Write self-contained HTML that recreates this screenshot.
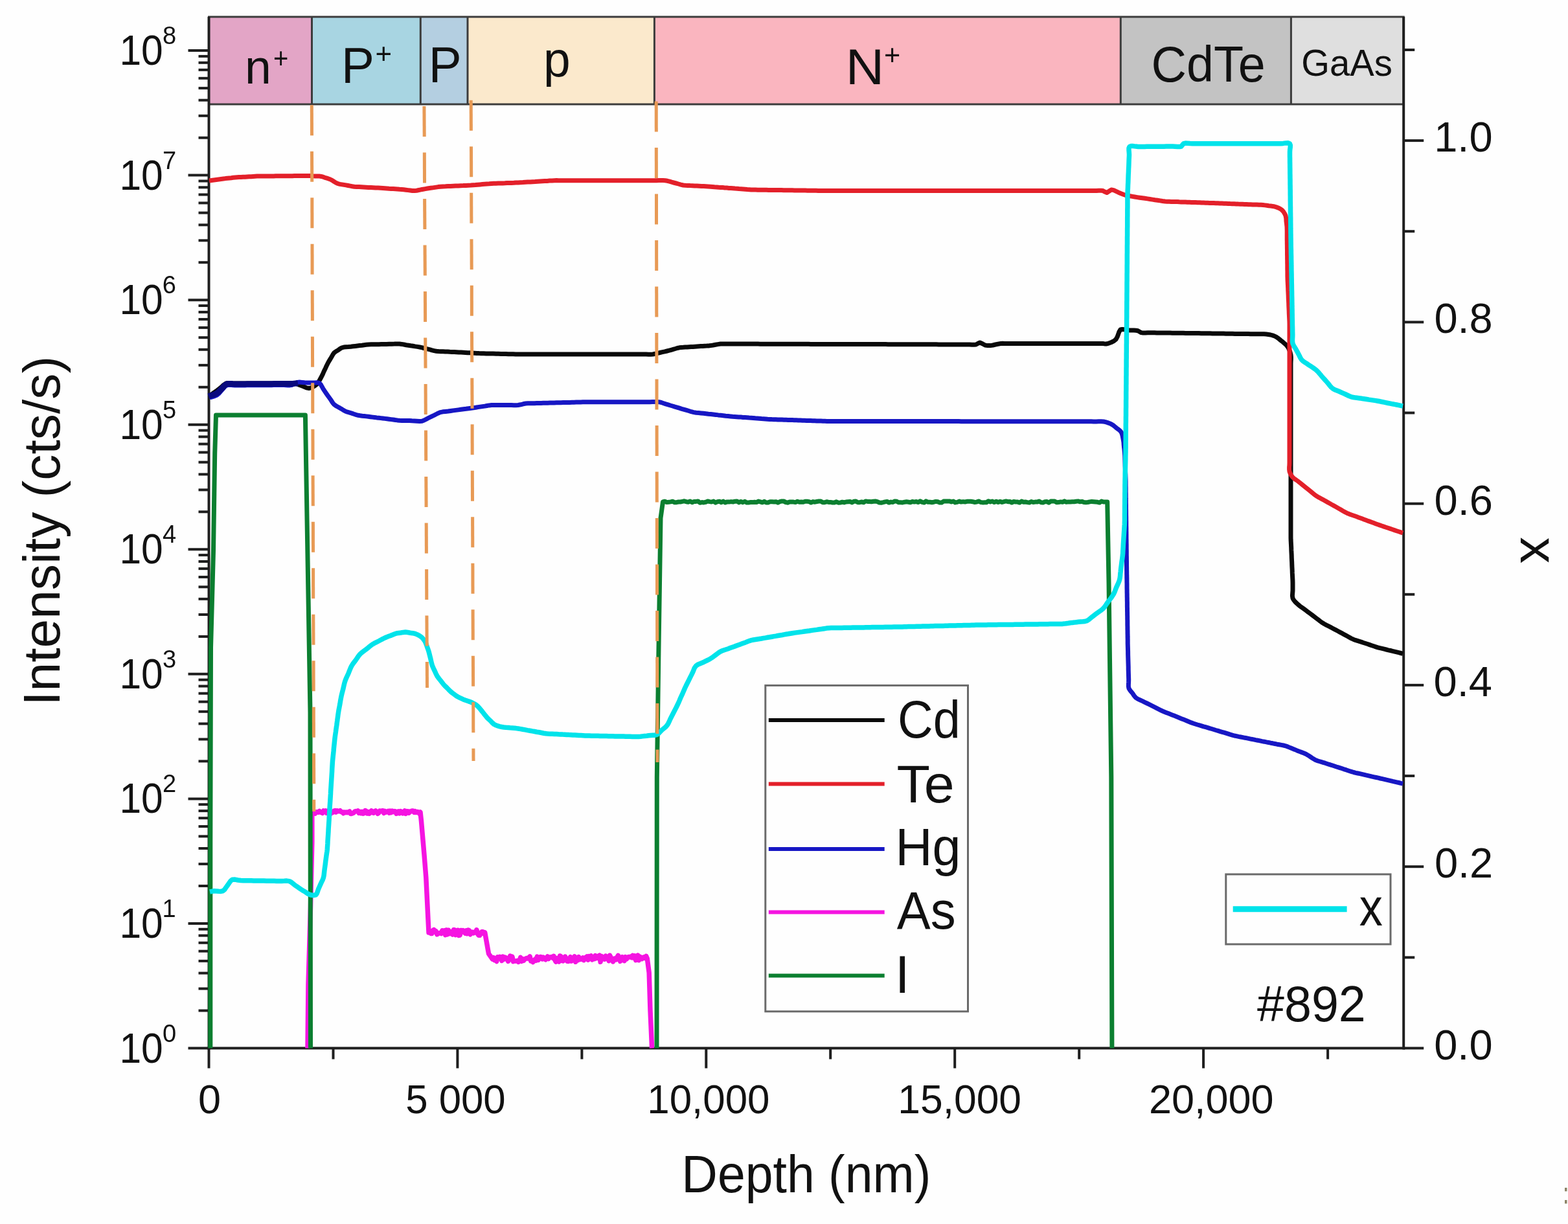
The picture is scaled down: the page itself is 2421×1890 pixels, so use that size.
<!DOCTYPE html>
<html><head><meta charset="utf-8"><title>SIMS depth profile #892</title>
<style>html,body{margin:0;padding:0;background:#fefefe;overflow:hidden}svg{display:block}</style>
</head><body>
<svg width="2421" height="1890" viewBox="0 0 2421 1890" font-family="Liberation Sans, Arial, sans-serif">
<rect width="2421" height="1890" fill="#fefefe"/>
<rect x="322.5" y="26" width="159.0" height="135" fill="#e3a5c6"/>
<rect x="481.5" y="26" width="167.8" height="135" fill="#a8d5e2"/>
<rect x="649.3" y="26" width="72.7" height="135" fill="#b4cfe1"/>
<rect x="722.0" y="26" width="288.4" height="135" fill="#fbe9cc"/>
<rect x="1010.4" y="26" width="719.9" height="135" fill="#fab5bf"/>
<rect x="1730.3" y="26" width="263.1" height="135" fill="#c3c3c3"/>
<rect x="1993.4" y="26" width="173.8" height="135" fill="#dfdfdf"/>
<line x1="481.5" y1="26" x2="481.5" y2="161" stroke="#3c3c3c" stroke-width="3"/>
<line x1="649.3" y1="26" x2="649.3" y2="161" stroke="#3c3c3c" stroke-width="3"/>
<line x1="722.0" y1="26" x2="722.0" y2="161" stroke="#3c3c3c" stroke-width="3"/>
<line x1="1010.4" y1="26" x2="1010.4" y2="161" stroke="#3c3c3c" stroke-width="3"/>
<line x1="1730.3" y1="26" x2="1730.3" y2="161" stroke="#3c3c3c" stroke-width="3"/>
<line x1="1993.4" y1="26" x2="1993.4" y2="161" stroke="#3c3c3c" stroke-width="3"/>
<rect x="322.5" y="26" width="1844.7" height="135" fill="none" stroke="#3c3c3c" stroke-width="3"/>
<text transform="translate(378.1,128.6) scale(0.979,1)" font-size="75" fill="#111" >n</text>
<text transform="translate(422.0,104.5) scale(0.907,1)" font-size="44" fill="#111" >+</text>
<text transform="translate(527.1,128.1) scale(0.978,1)" font-size="78" fill="#111" >P</text>
<text transform="translate(579.4,97.7) scale(0.996,1)" font-size="44" fill="#111" >+</text>
<text transform="translate(661.7,126.7) scale(0.978,1)" font-size="78" fill="#111" >P</text>
<text transform="translate(839.1,118.0) scale(0.999,1)" font-size="75" fill="#111" >p</text>
<text transform="translate(1305.7,129.5) scale(1.055,1)" font-size="78" fill="#111" >N</text>
<text transform="translate(1364.9,99.9) scale(0.982,1)" font-size="44" fill="#111" >+</text>
<text transform="translate(1777.5,126.1) scale(0.968,1)" font-size="78" fill="#111" >CdTe</text>
<text transform="translate(2009.2,116.7) scale(0.986,1)" font-size="57" fill="#111" >GaAs</text>
<line x1="322.5" y1="26" x2="322.5" y2="1620.5" stroke="#1e1e1e" stroke-width="4"/>
<line x1="2167.2" y1="26" x2="2167.2" y2="1620.5" stroke="#1e1e1e" stroke-width="4"/>
<line x1="320.5" y1="1618.5" x2="2169.2" y2="1618.5" stroke="#1e1e1e" stroke-width="4"/>
<line x1="290.5" y1="1618.5" x2="322.5" y2="1618.5" stroke="#1e1e1e" stroke-width="4"/>
<line x1="306.5" y1="1560.5" x2="322.5" y2="1560.5" stroke="#1e1e1e" stroke-width="4"/>
<line x1="306.5" y1="1526.6" x2="322.5" y2="1526.6" stroke="#1e1e1e" stroke-width="4"/>
<line x1="306.5" y1="1502.6" x2="322.5" y2="1502.6" stroke="#1e1e1e" stroke-width="4"/>
<line x1="306.5" y1="1483.9" x2="322.5" y2="1483.9" stroke="#1e1e1e" stroke-width="4"/>
<line x1="306.5" y1="1468.7" x2="322.5" y2="1468.7" stroke="#1e1e1e" stroke-width="4"/>
<line x1="306.5" y1="1455.8" x2="322.5" y2="1455.8" stroke="#1e1e1e" stroke-width="4"/>
<line x1="306.5" y1="1444.6" x2="322.5" y2="1444.6" stroke="#1e1e1e" stroke-width="4"/>
<line x1="306.5" y1="1434.8" x2="322.5" y2="1434.8" stroke="#1e1e1e" stroke-width="4"/>
<line x1="290.5" y1="1426.0" x2="322.5" y2="1426.0" stroke="#1e1e1e" stroke-width="4"/>
<line x1="306.5" y1="1368.0" x2="322.5" y2="1368.0" stroke="#1e1e1e" stroke-width="4"/>
<line x1="306.5" y1="1334.1" x2="322.5" y2="1334.1" stroke="#1e1e1e" stroke-width="4"/>
<line x1="306.5" y1="1310.0" x2="322.5" y2="1310.0" stroke="#1e1e1e" stroke-width="4"/>
<line x1="306.5" y1="1291.4" x2="322.5" y2="1291.4" stroke="#1e1e1e" stroke-width="4"/>
<line x1="306.5" y1="1276.1" x2="322.5" y2="1276.1" stroke="#1e1e1e" stroke-width="4"/>
<line x1="306.5" y1="1263.2" x2="322.5" y2="1263.2" stroke="#1e1e1e" stroke-width="4"/>
<line x1="306.5" y1="1252.1" x2="322.5" y2="1252.1" stroke="#1e1e1e" stroke-width="4"/>
<line x1="306.5" y1="1242.2" x2="322.5" y2="1242.2" stroke="#1e1e1e" stroke-width="4"/>
<line x1="290.5" y1="1233.4" x2="322.5" y2="1233.4" stroke="#1e1e1e" stroke-width="4"/>
<line x1="306.5" y1="1175.4" x2="322.5" y2="1175.4" stroke="#1e1e1e" stroke-width="4"/>
<line x1="306.5" y1="1141.5" x2="322.5" y2="1141.5" stroke="#1e1e1e" stroke-width="4"/>
<line x1="306.5" y1="1117.5" x2="322.5" y2="1117.5" stroke="#1e1e1e" stroke-width="4"/>
<line x1="306.5" y1="1098.8" x2="322.5" y2="1098.8" stroke="#1e1e1e" stroke-width="4"/>
<line x1="306.5" y1="1083.6" x2="322.5" y2="1083.6" stroke="#1e1e1e" stroke-width="4"/>
<line x1="306.5" y1="1070.7" x2="322.5" y2="1070.7" stroke="#1e1e1e" stroke-width="4"/>
<line x1="306.5" y1="1059.5" x2="322.5" y2="1059.5" stroke="#1e1e1e" stroke-width="4"/>
<line x1="306.5" y1="1049.7" x2="322.5" y2="1049.7" stroke="#1e1e1e" stroke-width="4"/>
<line x1="290.5" y1="1040.8" x2="322.5" y2="1040.8" stroke="#1e1e1e" stroke-width="4"/>
<line x1="306.5" y1="982.9" x2="322.5" y2="982.9" stroke="#1e1e1e" stroke-width="4"/>
<line x1="306.5" y1="949.0" x2="322.5" y2="949.0" stroke="#1e1e1e" stroke-width="4"/>
<line x1="306.5" y1="924.9" x2="322.5" y2="924.9" stroke="#1e1e1e" stroke-width="4"/>
<line x1="306.5" y1="906.3" x2="322.5" y2="906.3" stroke="#1e1e1e" stroke-width="4"/>
<line x1="306.5" y1="891.0" x2="322.5" y2="891.0" stroke="#1e1e1e" stroke-width="4"/>
<line x1="306.5" y1="878.1" x2="322.5" y2="878.1" stroke="#1e1e1e" stroke-width="4"/>
<line x1="306.5" y1="867.0" x2="322.5" y2="867.0" stroke="#1e1e1e" stroke-width="4"/>
<line x1="306.5" y1="857.1" x2="322.5" y2="857.1" stroke="#1e1e1e" stroke-width="4"/>
<line x1="290.5" y1="848.3" x2="322.5" y2="848.3" stroke="#1e1e1e" stroke-width="4"/>
<line x1="306.5" y1="790.3" x2="322.5" y2="790.3" stroke="#1e1e1e" stroke-width="4"/>
<line x1="306.5" y1="756.4" x2="322.5" y2="756.4" stroke="#1e1e1e" stroke-width="4"/>
<line x1="306.5" y1="732.4" x2="322.5" y2="732.4" stroke="#1e1e1e" stroke-width="4"/>
<line x1="306.5" y1="713.7" x2="322.5" y2="713.7" stroke="#1e1e1e" stroke-width="4"/>
<line x1="306.5" y1="698.5" x2="322.5" y2="698.5" stroke="#1e1e1e" stroke-width="4"/>
<line x1="306.5" y1="685.6" x2="322.5" y2="685.6" stroke="#1e1e1e" stroke-width="4"/>
<line x1="306.5" y1="674.4" x2="322.5" y2="674.4" stroke="#1e1e1e" stroke-width="4"/>
<line x1="306.5" y1="664.6" x2="322.5" y2="664.6" stroke="#1e1e1e" stroke-width="4"/>
<line x1="290.5" y1="655.8" x2="322.5" y2="655.8" stroke="#1e1e1e" stroke-width="4"/>
<line x1="306.5" y1="597.8" x2="322.5" y2="597.8" stroke="#1e1e1e" stroke-width="4"/>
<line x1="306.5" y1="563.9" x2="322.5" y2="563.9" stroke="#1e1e1e" stroke-width="4"/>
<line x1="306.5" y1="539.8" x2="322.5" y2="539.8" stroke="#1e1e1e" stroke-width="4"/>
<line x1="306.5" y1="521.2" x2="322.5" y2="521.2" stroke="#1e1e1e" stroke-width="4"/>
<line x1="306.5" y1="505.9" x2="322.5" y2="505.9" stroke="#1e1e1e" stroke-width="4"/>
<line x1="306.5" y1="493.0" x2="322.5" y2="493.0" stroke="#1e1e1e" stroke-width="4"/>
<line x1="306.5" y1="481.9" x2="322.5" y2="481.9" stroke="#1e1e1e" stroke-width="4"/>
<line x1="306.5" y1="472.0" x2="322.5" y2="472.0" stroke="#1e1e1e" stroke-width="4"/>
<line x1="290.5" y1="463.2" x2="322.5" y2="463.2" stroke="#1e1e1e" stroke-width="4"/>
<line x1="306.5" y1="405.2" x2="322.5" y2="405.2" stroke="#1e1e1e" stroke-width="4"/>
<line x1="306.5" y1="371.3" x2="322.5" y2="371.3" stroke="#1e1e1e" stroke-width="4"/>
<line x1="306.5" y1="347.3" x2="322.5" y2="347.3" stroke="#1e1e1e" stroke-width="4"/>
<line x1="306.5" y1="328.6" x2="322.5" y2="328.6" stroke="#1e1e1e" stroke-width="4"/>
<line x1="306.5" y1="313.4" x2="322.5" y2="313.4" stroke="#1e1e1e" stroke-width="4"/>
<line x1="306.5" y1="300.5" x2="322.5" y2="300.5" stroke="#1e1e1e" stroke-width="4"/>
<line x1="306.5" y1="289.3" x2="322.5" y2="289.3" stroke="#1e1e1e" stroke-width="4"/>
<line x1="306.5" y1="279.5" x2="322.5" y2="279.5" stroke="#1e1e1e" stroke-width="4"/>
<line x1="290.5" y1="270.6" x2="322.5" y2="270.6" stroke="#1e1e1e" stroke-width="4"/>
<line x1="306.5" y1="212.7" x2="322.5" y2="212.7" stroke="#1e1e1e" stroke-width="4"/>
<line x1="306.5" y1="178.8" x2="322.5" y2="178.8" stroke="#1e1e1e" stroke-width="4"/>
<line x1="306.5" y1="154.7" x2="322.5" y2="154.7" stroke="#1e1e1e" stroke-width="4"/>
<line x1="306.5" y1="136.1" x2="322.5" y2="136.1" stroke="#1e1e1e" stroke-width="4"/>
<line x1="306.5" y1="120.8" x2="322.5" y2="120.8" stroke="#1e1e1e" stroke-width="4"/>
<line x1="306.5" y1="107.9" x2="322.5" y2="107.9" stroke="#1e1e1e" stroke-width="4"/>
<line x1="306.5" y1="96.8" x2="322.5" y2="96.8" stroke="#1e1e1e" stroke-width="4"/>
<line x1="306.5" y1="86.9" x2="322.5" y2="86.9" stroke="#1e1e1e" stroke-width="4"/>
<line x1="290.5" y1="78.1" x2="322.5" y2="78.1" stroke="#1e1e1e" stroke-width="4"/>
<line x1="2167.2" y1="1618.5" x2="2198.2" y2="1618.5" stroke="#1e1e1e" stroke-width="4"/>
<line x1="2167.2" y1="1478.4" x2="2184.2" y2="1478.4" stroke="#1e1e1e" stroke-width="4"/>
<line x1="2167.2" y1="1338.2" x2="2198.2" y2="1338.2" stroke="#1e1e1e" stroke-width="4"/>
<line x1="2167.2" y1="1198.1" x2="2184.2" y2="1198.1" stroke="#1e1e1e" stroke-width="4"/>
<line x1="2167.2" y1="1057.9" x2="2198.2" y2="1057.9" stroke="#1e1e1e" stroke-width="4"/>
<line x1="2167.2" y1="917.8" x2="2184.2" y2="917.8" stroke="#1e1e1e" stroke-width="4"/>
<line x1="2167.2" y1="777.7" x2="2198.2" y2="777.7" stroke="#1e1e1e" stroke-width="4"/>
<line x1="2167.2" y1="637.5" x2="2184.2" y2="637.5" stroke="#1e1e1e" stroke-width="4"/>
<line x1="2167.2" y1="497.4" x2="2198.2" y2="497.4" stroke="#1e1e1e" stroke-width="4"/>
<line x1="2167.2" y1="357.2" x2="2184.2" y2="357.2" stroke="#1e1e1e" stroke-width="4"/>
<line x1="2167.2" y1="217.1" x2="2198.2" y2="217.1" stroke="#1e1e1e" stroke-width="4"/>
<line x1="2167.2" y1="77.0" x2="2184.2" y2="77.0" stroke="#1e1e1e" stroke-width="4"/>
<line x1="322.5" y1="1618.5" x2="322.5" y2="1649.5" stroke="#1e1e1e" stroke-width="4"/>
<line x1="514.5" y1="1618.5" x2="514.5" y2="1635.5" stroke="#1e1e1e" stroke-width="4"/>
<line x1="706.4" y1="1618.5" x2="706.4" y2="1649.5" stroke="#1e1e1e" stroke-width="4"/>
<line x1="898.4" y1="1618.5" x2="898.4" y2="1635.5" stroke="#1e1e1e" stroke-width="4"/>
<line x1="1090.3" y1="1618.5" x2="1090.3" y2="1649.5" stroke="#1e1e1e" stroke-width="4"/>
<line x1="1282.2" y1="1618.5" x2="1282.2" y2="1635.5" stroke="#1e1e1e" stroke-width="4"/>
<line x1="1474.2" y1="1618.5" x2="1474.2" y2="1649.5" stroke="#1e1e1e" stroke-width="4"/>
<line x1="1666.2" y1="1618.5" x2="1666.2" y2="1635.5" stroke="#1e1e1e" stroke-width="4"/>
<line x1="1858.1" y1="1618.5" x2="1858.1" y2="1649.5" stroke="#1e1e1e" stroke-width="4"/>
<line x1="2050.1" y1="1618.5" x2="2050.1" y2="1635.5" stroke="#1e1e1e" stroke-width="4"/>
<polyline points="323.7,611.0 326.6,609.0 329.5,606.9 332.4,604.9 335.0,603.0 338.6,600.2 342.0,597.5 345.3,594.4 349.0,592.0 351.9,591.5 355.3,591.5 358.8,591.8 362.2,592.0 365.6,592.0 368.9,592.0 372.2,592.0 375.5,592.0 378.8,592.0 382.1,592.0 385.4,592.0 388.8,592.0 392.1,592.0 395.4,592.0 398.7,592.0 402.0,592.0 405.3,592.0 408.6,592.0 411.9,592.0 415.2,592.0 418.6,592.0 421.9,592.0 425.2,592.0 428.5,592.0 431.8,592.0 435.1,592.0 438.4,592.0 441.8,592.0 445.1,591.9 448.5,591.7 451.8,591.7 455.0,592.0 458.8,593.0 462.4,594.4 466.0,595.8 469.7,597.3 473.3,598.9 477.0,599.5 480.0,598.9 483.1,597.6 486.0,595.8 488.6,593.8 490.6,591.6 492.4,589.0 493.9,586.3 495.4,583.5 496.9,580.6 498.4,577.6 499.7,574.5 501.1,571.5 502.6,568.4 504.0,565.3 505.5,562.3 506.9,559.5 509.2,555.6 511.4,552.0 513.6,548.1 516.0,544.6 518.9,542.5 522.0,540.7 524.8,538.6 528.0,536.8 531.0,536.1 534.4,535.7 538.1,535.5 541.7,535.2 545.1,534.8 548.5,534.4 551.9,534.0 555.3,533.6 558.8,533.2 562.2,532.7 565.6,532.3 569.0,532.0 573.0,531.8 577.0,531.8 580.9,531.8 584.9,531.7 588.9,531.6 592.9,531.5 596.8,531.4 600.8,531.3 604.8,531.2 608.8,531.1 612.8,530.9 616.7,531.0 620.2,531.4 623.7,532.0 627.1,532.7 630.6,533.2 634.1,533.8 637.6,534.3 641.0,534.9 644.4,535.4 648.0,536.0 651.1,536.7 654.3,537.5 657.6,538.3 660.9,539.1 664.0,539.9 667.2,540.8 670.4,541.6 673.7,542.2 677.1,542.6 680.6,542.7 684.1,542.8 687.6,542.9 691.0,543.1 694.5,543.3 698.0,543.4 701.4,543.6 704.9,543.8 708.4,544.0 711.8,544.1 715.3,544.3 718.7,544.5 722.2,544.7 725.7,544.8 729.1,545.0 732.6,545.2 736.2,545.4 739.6,545.6 743.0,545.7 746.9,545.8 750.6,545.9 754.4,546.0 758.2,546.0 762.0,546.1 765.8,546.2 769.6,546.3 773.4,546.4 777.2,546.5 781.0,546.6 784.8,546.7 788.6,546.7 792.4,546.8 796.1,546.9 800.0,547.0 803.4,547.0 806.8,547.0 810.4,547.0 813.9,547.0 817.3,547.0 820.8,547.0 824.3,547.0 827.7,547.0 831.2,547.0 834.7,547.0 838.1,547.0 841.6,547.0 845.1,547.0 848.5,547.0 852.0,547.0 855.5,547.0 858.9,547.0 862.4,547.0 865.9,547.0 869.3,547.0 872.8,547.0 876.3,547.0 879.7,547.0 883.2,547.0 886.7,547.0 890.1,547.0 893.6,547.0 897.1,547.0 900.5,547.0 904.0,547.0 907.5,547.0 910.9,547.0 914.4,547.0 917.9,547.0 921.3,547.0 924.8,547.0 928.3,547.0 931.7,547.0 935.2,547.0 938.7,547.0 942.1,547.0 945.6,547.0 949.1,547.0 952.5,547.0 956.0,547.0 959.5,547.0 962.9,547.0 966.4,547.0 969.9,547.0 973.3,547.0 976.8,547.0 980.3,547.0 983.7,547.0 987.2,547.0 990.7,547.0 994.1,547.0 997.6,547.1 1001.2,547.2 1004.7,547.2 1008.0,547.0 1011.8,546.3 1015.4,545.4 1019.0,544.5 1022.7,543.7 1026.4,542.9 1030.0,542.0 1033.2,541.2 1036.4,540.3 1039.5,539.4 1042.6,538.5 1045.7,537.5 1049.0,536.8 1051.9,536.4 1054.9,536.3 1058.0,536.1 1061.0,536.0 1064.0,535.8 1067.0,535.6 1070.0,535.4 1073.0,535.2 1076.0,535.0 1079.0,534.8 1082.0,534.6 1085.0,534.4 1088.1,534.2 1091.2,534.1 1094.2,533.9 1097.0,533.6 1101.0,533.0 1104.8,532.3 1108.5,531.6 1112.5,531.0 1115.6,530.9 1119.1,530.9 1122.6,531.0 1126.1,531.0 1129.5,531.0 1132.9,531.1 1136.3,531.1 1139.7,531.1 1143.1,531.1 1146.5,531.1 1149.9,531.1 1153.3,531.1 1156.7,531.1 1160.1,531.1 1163.5,531.1 1166.9,531.1 1170.3,531.1 1173.7,531.2 1177.1,531.2 1180.5,531.2 1183.9,531.2 1187.3,531.2 1190.7,531.2 1194.1,531.2 1197.5,531.2 1200.9,531.2 1204.3,531.2 1207.7,531.2 1211.1,531.2 1214.5,531.3 1217.9,531.3 1221.3,531.3 1224.7,531.3 1228.1,531.3 1231.5,531.3 1234.9,531.3 1238.3,531.3 1241.7,531.3 1245.1,531.3 1248.5,531.3 1251.9,531.4 1255.3,531.4 1258.7,531.4 1262.1,531.4 1265.5,531.4 1268.9,531.4 1272.3,531.4 1275.7,531.4 1279.1,531.4 1282.5,531.4 1285.9,531.4 1289.3,531.4 1292.7,531.5 1296.1,531.5 1299.5,531.5 1302.9,531.5 1306.3,531.5 1309.8,531.5 1313.2,531.5 1316.6,531.5 1320.0,531.5 1323.4,531.5 1326.8,531.5 1330.2,531.6 1333.6,531.6 1337.0,531.6 1340.4,531.6 1343.8,531.6 1347.2,531.6 1350.6,531.6 1354.0,531.6 1357.4,531.6 1360.8,531.6 1364.2,531.6 1367.6,531.6 1371.0,531.7 1374.4,531.7 1377.8,531.7 1381.2,531.7 1384.6,531.7 1388.0,531.7 1391.4,531.7 1394.8,531.7 1398.2,531.7 1401.6,531.7 1405.0,531.7 1408.4,531.8 1411.8,531.8 1415.2,531.8 1418.6,531.8 1422.0,531.8 1425.4,531.8 1428.8,531.8 1432.2,531.8 1435.6,531.8 1439.0,531.8 1442.4,531.8 1445.8,531.8 1449.2,531.9 1452.6,531.9 1456.0,531.9 1459.4,531.9 1462.8,531.9 1466.2,531.9 1469.6,531.9 1473.0,531.9 1476.4,531.9 1479.8,531.9 1483.2,531.9 1486.6,531.9 1490.0,532.0 1493.4,532.0 1496.9,532.1 1500.6,532.3 1504.0,532.3 1507.0,532.0 1510.1,530.3 1513.0,529.0 1516.9,530.7 1521.0,533.0 1525.0,533.6 1529.0,533.6 1533.0,533.0 1537.0,532.0 1540.9,531.2 1545.0,530.5 1548.1,530.3 1551.4,530.4 1554.8,530.4 1558.2,530.5 1561.5,530.5 1564.8,530.5 1568.0,530.5 1571.3,530.5 1574.6,530.5 1577.9,530.5 1581.2,530.5 1584.5,530.5 1587.8,530.5 1591.1,530.5 1594.4,530.5 1597.7,530.5 1601.0,530.5 1604.2,530.5 1607.5,530.5 1610.8,530.5 1614.1,530.5 1617.4,530.5 1620.7,530.5 1624.0,530.5 1627.3,530.5 1630.6,530.5 1633.9,530.5 1637.2,530.5 1640.5,530.5 1643.7,530.5 1647.0,530.5 1650.3,530.5 1653.6,530.5 1656.9,530.5 1660.2,530.5 1663.5,530.5 1666.8,530.5 1670.1,530.5 1673.4,530.5 1676.7,530.5 1680.0,530.5 1683.2,530.5 1686.5,530.5 1689.8,530.5 1693.3,530.5 1696.8,530.4 1700.1,530.4 1703.0,530.5 1705.6,530.9 1708.0,531.0 1712.0,530.1 1716.0,528.5 1719.8,526.6 1723.0,524.0 1725.0,520.4 1726.5,516.5 1727.9,512.3 1730.0,509.0 1732.7,508.4 1736.1,508.7 1739.9,509.4 1743.5,509.9 1747.0,510.0 1750.7,510.1 1754.1,510.3 1757.0,510.8 1759.5,512.2 1762.0,513.6 1764.9,514.0 1768.4,514.0 1772.1,513.8 1775.7,513.8 1779.1,513.8 1782.6,513.8 1786.0,513.9 1789.4,513.9 1792.9,514.0 1796.3,514.0 1799.7,514.0 1803.1,514.1 1806.6,514.1 1810.0,514.2 1813.4,514.2 1816.9,514.2 1820.3,514.3 1823.7,514.3 1827.1,514.3 1830.6,514.4 1834.0,514.4 1837.4,514.5 1840.9,514.5 1844.3,514.5 1847.7,514.6 1851.1,514.6 1854.6,514.7 1858.0,514.7 1861.5,514.7 1864.9,514.8 1868.4,514.8 1871.9,514.9 1875.3,514.9 1878.8,515.0 1882.2,515.0 1885.7,515.1 1889.2,515.1 1892.6,515.2 1896.1,515.2 1899.6,515.3 1903.0,515.3 1906.5,515.4 1910.0,515.4 1913.4,515.4 1916.9,515.5 1920.4,515.5 1923.8,515.6 1927.3,515.6 1930.8,515.7 1934.2,515.7 1937.7,515.8 1941.1,515.8 1944.6,515.8 1948.1,515.7 1951.6,515.7 1955.0,516.0 1958.4,516.5 1961.7,517.0 1964.9,517.9 1968.0,519.0 1970.7,520.4 1973.2,522.1 1975.6,524.0 1978.0,526.0 1980.7,528.1 1983.3,530.3 1985.9,532.6 1988.0,535.2 1989.7,538.1 1991.1,541.3 1992.2,544.7 1993.0,548.0 1993.3,551.3 1993.3,554.7 1993.1,558.1 1993.0,561.4 1993.0,564.8 1993.0,568.1 1993.0,571.5 1993.0,574.9 1993.0,578.2 1993.0,581.6 1993.0,584.9 1993.0,588.3 1993.0,591.6 1993.0,595.0 1993.0,598.4 1993.0,601.7 1993.0,605.1 1993.0,608.4 1993.0,611.8 1993.0,615.1 1993.0,618.5 1993.0,621.9 1993.0,625.2 1993.0,628.6 1993.0,631.9 1993.0,635.3 1993.0,638.6 1993.0,642.0 1993.0,645.4 1993.0,648.7 1993.0,652.1 1993.0,655.4 1993.0,658.8 1993.0,662.1 1993.0,665.5 1993.0,668.9 1993.0,672.2 1993.0,675.6 1993.0,678.9 1993.0,682.3 1993.0,685.6 1993.0,689.0 1993.0,692.4 1993.0,695.7 1993.0,699.1 1993.0,702.4 1993.0,705.8 1993.0,709.1 1993.0,712.5 1993.0,715.9 1993.0,719.2 1993.0,722.6 1993.0,725.9 1993.0,729.3 1993.0,732.6 1993.0,736.0 1993.0,739.4 1993.0,742.7 1993.0,746.1 1993.0,749.4 1993.0,752.8 1993.0,756.1 1993.0,759.5 1993.0,762.9 1993.0,766.2 1993.0,769.6 1993.0,772.9 1993.0,776.3 1993.0,779.6 1993.0,783.0 1993.0,786.4 1993.0,789.7 1993.0,793.1 1993.0,796.4 1993.0,799.8 1993.0,803.1 1993.0,806.5 1993.0,809.9 1993.0,813.2 1993.0,816.6 1993.0,820.0 1993.0,823.3 1993.0,826.7 1993.0,830.0 1993.1,834.0 1993.3,837.8 1993.5,841.7 1993.7,845.6 1993.8,849.4 1994.0,853.3 1994.2,857.2 1994.3,861.1 1994.5,865.0 1994.7,868.9 1994.8,872.8 1995.0,876.7 1995.2,880.6 1995.3,884.4 1995.5,888.3 1995.7,892.2 1995.9,896.1 1996.0,900.0 1996.0,904.0 1996.0,907.9 1996.0,911.9 1995.7,916.0 1995.4,920.0 1996.0,923.8 1997.4,926.4 1999.4,928.9 2001.7,931.1 2004.0,933.3 2007.0,935.8 2010.3,938.1 2013.5,940.4 2016.7,942.8 2019.8,945.2 2023.0,947.5 2026.2,949.9 2029.3,952.3 2032.5,954.7 2035.6,957.1 2038.7,959.5 2042.0,961.8 2044.8,963.5 2047.8,965.1 2050.9,966.6 2053.9,968.1 2056.8,969.7 2059.8,971.3 2062.8,972.9 2065.8,974.5 2068.7,976.1 2071.7,977.7 2074.7,979.3 2077.6,980.9 2080.6,982.5 2083.5,984.2 2086.5,985.8 2089.5,987.2 2092.6,988.4 2095.8,989.4 2099.0,990.4 2102.2,991.4 2105.3,992.5 2108.5,993.5 2111.7,994.5 2114.8,995.6 2118.0,996.7 2121.2,997.8 2124.3,998.8 2127.5,999.8 2130.7,1000.7 2133.9,1001.4 2137.1,1002.2 2140.3,1003.0 2143.5,1003.8 2146.8,1004.5 2150.0,1005.3 2153.2,1006.1 2156.4,1006.9 2159.6,1007.7 2162.8,1008.5 2166.0,1009.3" fill="none" stroke="#0a0a0a" stroke-width="7" stroke-linejoin="round" stroke-linecap="butt" />
<polyline points="323.0,279.0 326.7,278.5 330.3,278.0 334.0,277.5 337.7,277.0 341.4,276.5 345.0,276.0 348.1,275.6 351.0,275.3 354.0,275.0 356.9,274.7 359.9,274.3 363.0,274.0 365.9,273.8 369.0,273.6 372.2,273.5 375.3,273.3 378.4,273.2 381.5,273.0 384.6,272.8 387.7,272.7 390.7,272.5 393.8,272.3 396.9,272.1 400.0,272.0 403.2,271.9 406.4,271.9 409.6,271.9 412.8,271.9 416.0,271.9 419.2,271.9 422.5,271.9 425.7,271.8 428.9,271.8 432.1,271.8 435.3,271.8 438.5,271.8 441.7,271.7 444.9,271.7 448.1,271.7 451.3,271.7 454.5,271.6 457.8,271.6 461.0,271.6 464.2,271.6 467.4,271.5 470.7,271.5 473.9,271.5 477.0,271.5 480.3,271.6 483.4,271.8 486.5,271.9 489.7,272.0 493.0,272.1 496.0,272.4 499.6,273.4 503.0,274.7 506.4,275.7 510.0,277.0 512.7,278.4 515.6,280.3 518.5,282.1 521.6,283.5 524.7,284.4 527.9,284.9 531.1,285.4 534.3,285.9 537.5,286.5 540.7,287.1 543.9,287.7 547.0,288.2 550.7,288.5 554.4,288.6 558.0,288.8 561.7,289.0 565.3,289.2 569.0,289.4 572.7,289.5 576.3,289.7 580.0,289.9 583.7,290.1 587.4,290.3 591.0,290.5 594.3,290.7 597.5,290.9 600.7,291.2 603.9,291.4 607.1,291.6 610.3,291.8 613.6,292.0 616.8,292.3 620.0,292.5 623.3,292.8 626.7,293.2 630.0,293.6 633.3,294.0 636.7,294.5 640.0,294.6 643.3,294.2 646.7,293.5 650.0,292.8 653.3,292.2 656.7,291.6 660.0,291.0 663.3,290.5 666.7,290.1 670.0,289.6 673.3,289.1 676.6,288.6 680.0,288.2 683.8,287.9 687.8,287.8 691.8,287.6 695.7,287.5 699.6,287.3 703.5,287.1 707.4,286.9 711.3,286.7 715.2,286.6 719.2,286.4 723.1,286.2 727.0,286.0 730.6,285.7 734.1,285.5 737.7,285.2 741.2,284.9 744.8,284.6 748.3,284.3 751.8,284.0 755.3,283.8 759.0,283.5 762.3,283.3 765.7,283.2 769.2,283.1 772.7,283.0 776.1,282.9 779.5,282.8 782.9,282.6 786.3,282.5 789.8,282.4 793.3,282.3 796.7,282.1 800.0,282.0 803.8,281.8 807.5,281.6 811.2,281.3 814.9,281.1 818.7,280.9 822.4,280.7 826.1,280.5 829.9,280.2 833.6,280.0 837.3,279.8 841.1,279.6 844.8,279.4 848.5,279.1 852.2,278.9 856.0,278.7 859.2,278.6 862.5,278.7 865.8,278.7 869.2,278.7 872.4,278.7 875.7,278.7 879.0,278.7 882.3,278.7 885.6,278.7 888.9,278.7 892.2,278.7 895.5,278.7 898.8,278.7 902.0,278.7 905.3,278.7 908.6,278.7 911.9,278.7 915.2,278.7 918.5,278.7 921.8,278.7 925.1,278.7 928.3,278.7 931.6,278.7 934.9,278.7 938.2,278.7 941.5,278.7 944.8,278.7 948.1,278.7 951.4,278.7 954.7,278.7 957.9,278.7 961.2,278.7 964.5,278.7 967.8,278.7 971.1,278.7 974.4,278.7 977.7,278.7 981.0,278.7 984.2,278.7 987.5,278.7 990.8,278.7 994.1,278.7 997.4,278.7 1000.7,278.7 1004.0,278.7 1007.3,278.7 1010.6,278.7 1013.8,278.7 1017.1,278.6 1020.4,278.5 1023.7,278.5 1027.0,278.7 1030.4,279.3 1033.7,280.2 1037.0,281.2 1040.0,282.0 1043.9,283.0 1047.5,284.0 1051.2,285.1 1055.0,286.0 1058.4,286.3 1061.9,286.4 1065.5,286.6 1069.0,286.7 1072.5,286.9 1076.0,287.1 1079.5,287.3 1083.0,287.5 1086.5,287.6 1090.0,287.8 1093.4,288.0 1097.0,288.2 1100.1,288.4 1103.2,288.7 1106.4,288.9 1109.6,289.2 1112.8,289.4 1115.9,289.6 1119.1,289.9 1122.2,290.1 1125.4,290.4 1128.5,290.6 1131.7,290.8 1134.8,291.1 1138.0,291.3 1141.1,291.6 1144.2,291.8 1147.4,292.0 1150.5,292.3 1153.7,292.6 1156.8,292.8 1160.0,293.0 1163.3,293.1 1166.6,293.1 1170.0,293.2 1173.3,293.2 1176.7,293.2 1180.0,293.3 1183.3,293.3 1186.7,293.4 1190.0,293.4 1193.3,293.4 1196.7,293.5 1200.0,293.5 1203.3,293.6 1206.7,293.6 1210.0,293.7 1213.3,293.7 1216.7,293.8 1220.0,293.8 1223.3,293.8 1226.7,293.9 1230.0,293.9 1233.3,294.0 1236.7,294.0 1240.0,294.1 1243.3,294.1 1246.7,294.2 1250.0,294.2 1253.3,294.2 1256.7,294.3 1260.0,294.3 1263.3,294.4 1266.7,294.4 1270.0,294.5 1273.3,294.5 1276.7,294.6 1280.0,294.6 1283.4,294.6 1286.8,294.6 1290.2,294.6 1293.6,294.6 1297.1,294.6 1300.5,294.6 1303.9,294.6 1307.3,294.6 1310.7,294.6 1314.1,294.6 1317.5,294.6 1320.9,294.6 1324.3,294.6 1327.8,294.6 1331.2,294.6 1334.6,294.6 1338.0,294.6 1341.4,294.6 1344.8,294.6 1348.2,294.6 1351.6,294.6 1355.0,294.6 1358.5,294.6 1361.9,294.6 1365.3,294.6 1368.7,294.6 1372.1,294.6 1375.5,294.6 1378.9,294.6 1382.3,294.6 1385.8,294.6 1389.2,294.6 1392.6,294.6 1396.0,294.6 1399.4,294.6 1402.8,294.6 1406.2,294.6 1409.6,294.6 1413.0,294.6 1416.5,294.6 1419.9,294.6 1423.3,294.6 1426.7,294.6 1430.1,294.6 1433.5,294.6 1436.9,294.6 1440.3,294.6 1443.7,294.6 1447.2,294.6 1450.6,294.6 1454.0,294.6 1457.4,294.6 1460.8,294.6 1464.2,294.6 1467.6,294.6 1471.0,294.6 1474.4,294.6 1477.9,294.6 1481.3,294.6 1484.7,294.6 1488.1,294.6 1491.5,294.6 1494.9,294.6 1498.3,294.6 1501.7,294.6 1505.1,294.6 1508.6,294.6 1512.0,294.6 1515.4,294.6 1518.8,294.6 1522.2,294.6 1525.6,294.6 1529.0,294.6 1532.4,294.6 1535.8,294.6 1539.3,294.6 1542.7,294.6 1546.1,294.6 1549.5,294.6 1552.9,294.6 1556.3,294.6 1559.7,294.6 1563.1,294.6 1566.5,294.6 1570.0,294.6 1573.4,294.6 1576.8,294.6 1580.2,294.6 1583.6,294.6 1587.0,294.6 1590.4,294.6 1593.8,294.6 1597.2,294.6 1600.7,294.6 1604.1,294.6 1607.5,294.6 1610.9,294.6 1614.3,294.6 1617.7,294.6 1621.1,294.6 1624.5,294.6 1628.0,294.6 1631.4,294.6 1634.8,294.6 1638.2,294.6 1641.6,294.6 1645.0,294.6 1648.4,294.6 1651.8,294.6 1655.2,294.6 1658.7,294.6 1662.1,294.6 1665.5,294.6 1668.9,294.6 1672.3,294.6 1675.7,294.6 1679.1,294.6 1682.5,294.6 1685.9,294.6 1689.4,294.6 1692.9,294.5 1696.5,294.3 1700.0,294.3 1703.0,294.6 1706.2,296.3 1709.0,297.5 1712.4,295.3 1716.0,293.0 1719.5,293.6 1723.2,295.4 1727.0,297.2 1730.7,298.8 1734.5,300.3 1738.0,301.5 1741.6,302.2 1745.0,302.8 1748.4,303.4 1752.0,304.0 1755.7,304.6 1759.7,305.2 1763.8,305.8 1767.7,306.3 1771.6,306.9 1775.5,307.5 1779.4,308.1 1783.3,308.7 1787.2,309.2 1791.2,309.9 1795.1,310.5 1799.0,311.0 1802.1,311.2 1805.2,311.3 1808.4,311.4 1811.5,311.4 1814.6,311.5 1817.8,311.6 1820.9,311.8 1824.0,311.9 1827.1,312.0 1830.2,312.1 1833.4,312.2 1836.5,312.3 1839.6,312.4 1842.8,312.5 1845.9,312.6 1849.0,312.7 1852.1,312.8 1855.2,313.0 1858.4,313.1 1861.5,313.2 1864.6,313.3 1867.7,313.4 1870.9,313.5 1874.0,313.6 1877.2,313.7 1880.3,313.8 1883.5,314.0 1886.7,314.1 1889.8,314.2 1893.0,314.3 1896.2,314.4 1899.3,314.6 1902.5,314.7 1905.7,314.8 1908.8,314.9 1912.0,315.1 1915.2,315.2 1918.3,315.3 1921.5,315.4 1924.7,315.5 1927.8,315.7 1931.0,315.8 1934.2,315.9 1937.3,316.0 1940.6,316.1 1943.8,316.2 1947.0,316.3 1950.0,316.5 1953.1,316.9 1956.1,317.3 1959.0,317.8 1962.0,318.1 1965.0,318.4 1968.0,319.0 1970.8,319.9 1973.8,321.0 1976.6,322.3 1979.0,324.0 1981.5,326.7 1983.5,329.8 1985.0,333.0 1985.8,337.2 1986.0,341.5 1986.5,345.6 1987.0,350.0 1987.1,353.1 1987.2,356.4 1987.2,359.8 1987.2,363.2 1987.2,366.5 1987.2,369.8 1987.3,373.0 1987.3,376.3 1987.4,379.6 1987.4,382.9 1987.5,386.2 1987.5,389.5 1987.5,392.8 1987.6,396.1 1987.6,399.4 1987.7,402.7 1987.7,406.0 1987.8,409.2 1987.8,412.5 1987.8,415.8 1987.9,419.1 1987.9,422.5 1987.9,425.8 1988.0,429.0 1988.1,433.0 1988.3,436.9 1988.5,440.8 1988.7,444.8 1988.8,448.7 1989.0,452.7 1989.2,456.6 1989.3,460.6 1989.5,464.5 1989.7,468.4 1989.8,472.4 1990.0,476.3 1990.2,480.3 1990.3,484.2 1990.5,488.2 1990.7,492.1 1990.9,496.0 1991.0,500.0 1991.0,503.3 1991.0,506.7 1991.0,510.0 1991.0,513.4 1991.0,516.8 1991.0,520.1 1991.0,523.5 1991.0,526.8 1991.0,530.2 1991.0,533.5 1991.0,536.9 1991.0,540.2 1991.0,543.6 1991.0,546.9 1991.0,550.3 1991.0,553.6 1991.0,557.0 1991.0,560.4 1991.0,563.7 1991.0,567.1 1991.0,570.4 1991.0,573.8 1991.0,577.1 1991.0,580.5 1991.0,583.8 1991.0,587.2 1991.0,590.5 1991.0,593.9 1991.0,597.2 1991.0,600.6 1991.0,603.9 1991.0,607.3 1991.0,610.6 1991.0,614.0 1991.0,617.4 1991.0,620.7 1991.0,624.1 1991.0,627.4 1991.0,630.8 1991.0,634.1 1991.0,637.5 1991.0,640.8 1991.0,644.2 1991.0,647.5 1991.0,650.9 1991.0,654.2 1991.0,657.6 1991.0,660.9 1991.0,664.3 1991.0,667.6 1991.0,671.0 1991.0,674.4 1991.0,677.7 1991.0,681.1 1991.0,684.4 1991.0,687.8 1991.0,691.1 1991.0,694.5 1991.0,697.8 1991.0,701.2 1991.0,704.5 1991.0,707.9 1991.0,711.2 1991.0,714.6 1990.9,718.0 1990.6,721.5 1990.6,724.9 1991.0,728.0 1992.2,731.3 1993.9,734.3 1996.0,737.0 1998.4,739.2 2001.2,741.0 2004.0,743.0 2007.1,745.4 2010.2,748.0 2013.3,750.5 2016.4,753.0 2019.6,755.5 2022.7,758.0 2025.7,760.5 2028.8,763.1 2032.0,765.5 2034.9,767.3 2037.9,768.9 2041.0,770.6 2044.0,772.2 2047.0,773.9 2050.0,775.6 2053.0,777.3 2056.0,779.0 2059.0,780.6 2062.0,782.3 2065.0,784.0 2068.0,785.7 2071.0,787.4 2074.0,789.2 2077.0,790.9 2080.0,792.4 2082.9,793.6 2085.9,794.7 2088.8,795.7 2091.8,796.8 2094.7,797.8 2097.6,798.9 2100.6,800.0 2103.5,801.1 2106.4,802.2 2109.4,803.3 2112.3,804.4 2115.2,805.4 2118.2,806.5 2121.1,807.6 2124.0,808.7 2127.0,809.8 2130.2,810.9 2133.5,812.0 2136.7,813.1 2140.0,814.2 2143.2,815.3 2146.5,816.4 2149.8,817.5 2153.0,818.6 2156.2,819.7 2159.5,820.8 2162.8,821.9 2166.0,823.0" fill="none" stroke="#e3202a" stroke-width="7" stroke-linejoin="round" stroke-linecap="butt" />
<polyline points="323.7,614.0 327.6,612.8 331.5,611.6 335.0,610.0 337.7,607.8 340.1,605.1 342.5,602.5 344.9,599.7 347.2,597.0 350.0,595.0 352.8,594.4 356.0,594.4 359.3,594.8 362.6,594.9 365.8,594.9 368.9,594.9 372.0,594.9 375.2,594.9 378.4,594.9 381.5,594.8 384.7,594.8 387.8,594.8 391.0,594.8 394.1,594.8 397.2,594.8 400.4,594.8 403.5,594.7 406.7,594.7 409.9,594.7 413.0,594.7 416.2,594.7 419.3,594.7 422.5,594.6 425.6,594.6 428.8,594.6 431.9,594.6 435.1,594.6 438.2,594.6 441.4,594.7 444.7,594.9 447.9,594.9 450.8,594.5 454.8,592.4 458.8,590.4 462.4,590.1 466.3,590.4 470.2,590.8 474.0,590.9 477.8,591.0 481.6,591.1 485.6,590.9 489.6,590.7 493.0,591.5 495.3,593.8 497.1,596.9 498.8,600.1 500.7,603.0 502.7,605.9 504.6,608.7 506.5,611.4 508.4,614.0 510.3,616.7 512.1,619.5 513.9,622.2 516.0,624.7 518.7,626.6 521.6,628.2 524.6,629.9 527.4,631.6 530.3,633.4 533.2,635.0 536.4,636.2 539.8,637.2 543.1,638.1 546.3,639.3 549.6,640.4 553.0,641.3 556.1,641.8 559.3,642.2 562.5,642.5 565.7,642.9 568.9,643.3 572.1,643.7 575.3,644.1 578.5,644.5 581.7,644.9 584.9,645.2 588.0,645.6 591.2,646.0 594.4,646.4 597.6,646.8 600.8,647.2 604.0,647.6 607.2,648.0 610.4,648.5 613.6,648.9 616.7,649.2 620.6,649.4 624.5,649.5 628.3,649.5 632.2,649.6 636.0,649.8 639.9,649.9 643.8,650.2 647.8,650.5 651.5,650.2 654.8,649.0 657.9,647.4 661.0,645.7 664.2,644.2 667.3,642.6 670.5,641.1 673.6,639.5 676.7,637.9 680.0,636.6 683.8,635.8 687.9,635.4 691.9,635.0 695.8,634.5 699.8,633.9 703.8,633.4 707.7,632.9 711.7,632.3 715.6,631.8 719.6,631.3 723.6,630.7 727.5,630.2 731.0,629.7 734.5,629.2 738.0,628.6 741.5,628.1 745.0,627.6 748.5,627.1 751.9,626.5 755.4,625.9 759.0,625.5 762.3,625.4 765.7,625.4 769.2,625.5 772.7,625.5 776.1,625.5 779.5,625.5 782.9,625.5 786.3,625.5 789.8,625.6 793.2,625.7 796.7,625.7 800.0,625.5 803.9,624.8 807.8,623.8 811.7,623.0 815.0,622.7 818.4,622.7 821.9,622.7 825.3,622.7 828.7,622.6 832.1,622.5 835.5,622.4 838.8,622.3 842.2,622.3 845.6,622.2 849.0,622.1 852.4,622.0 855.8,621.9 859.2,621.8 862.6,621.8 866.0,621.7 869.4,621.6 872.8,621.5 876.2,621.4 879.6,621.4 883.0,621.3 886.3,621.2 889.7,621.1 893.1,621.0 896.5,620.9 899.9,620.8 903.3,620.8 906.7,620.7 910.2,620.7 913.6,620.7 917.1,620.7 920.6,620.7 924.0,620.7 927.5,620.7 930.9,620.7 934.4,620.7 937.9,620.7 941.3,620.7 944.8,620.7 948.2,620.7 951.7,620.7 955.2,620.7 958.6,620.7 962.1,620.7 965.6,620.7 969.0,620.7 972.5,620.7 976.0,620.7 979.4,620.7 982.9,620.7 986.3,620.7 989.8,620.7 993.3,620.7 996.7,620.7 1000.2,620.7 1003.6,620.7 1007.2,620.6 1010.7,620.5 1014.2,620.4 1017.5,620.7 1021.1,621.5 1024.6,622.7 1028.0,623.9 1031.5,624.9 1035.0,626.0 1038.5,627.0 1042.0,628.1 1045.5,629.1 1049.0,630.2 1052.6,631.3 1056.3,632.3 1060.0,633.4 1063.7,634.5 1067.3,635.7 1071.0,636.6 1074.8,637.2 1078.6,637.5 1082.4,637.9 1086.2,638.3 1090.0,638.7 1093.8,639.2 1097.6,639.6 1101.4,640.0 1105.2,640.4 1109.0,640.9 1112.8,641.3 1116.6,641.7 1120.4,642.2 1124.2,642.6 1128.0,643.0 1131.1,643.3 1134.3,643.5 1137.5,643.7 1140.7,643.9 1143.9,644.1 1147.1,644.4 1150.3,644.6 1153.4,644.8 1156.6,645.1 1159.8,645.3 1163.0,645.5 1166.2,645.8 1169.3,646.0 1172.5,646.2 1175.7,646.5 1178.9,646.7 1182.1,646.9 1185.2,647.2 1188.4,647.4 1191.6,647.6 1194.8,647.7 1197.9,647.8 1201.1,647.9 1204.2,648.0 1207.4,648.1 1210.5,648.2 1213.7,648.3 1216.9,648.4 1220.0,648.5 1223.2,648.6 1226.3,648.7 1229.5,648.8 1232.6,648.9 1235.8,649.0 1239.0,649.2 1242.1,649.3 1245.3,649.4 1248.4,649.5 1251.6,649.6 1254.7,649.7 1257.9,649.8 1261.1,649.9 1264.2,650.0 1267.4,650.1 1270.5,650.2 1273.6,650.3 1276.8,650.4 1280.0,650.5 1283.4,650.5 1286.9,650.5 1290.4,650.5 1293.8,650.5 1297.3,650.5 1300.7,650.5 1304.2,650.5 1307.7,650.5 1311.1,650.5 1314.6,650.5 1318.0,650.5 1321.5,650.5 1324.9,650.5 1328.4,650.5 1331.9,650.5 1335.3,650.5 1338.8,650.5 1342.2,650.5 1345.7,650.5 1349.1,650.6 1352.6,650.6 1356.1,650.6 1359.5,650.6 1363.0,650.6 1366.4,650.6 1369.9,650.6 1373.3,650.6 1376.8,650.6 1380.2,650.6 1383.7,650.6 1387.2,650.6 1390.6,650.6 1394.1,650.6 1397.5,650.6 1401.0,650.6 1404.4,650.6 1407.9,650.6 1411.4,650.6 1414.8,650.6 1418.3,650.6 1421.7,650.6 1425.2,650.6 1428.6,650.6 1432.1,650.6 1435.6,650.6 1439.0,650.6 1442.5,650.6 1445.9,650.6 1449.4,650.6 1452.8,650.6 1456.3,650.6 1459.8,650.6 1463.2,650.6 1466.7,650.6 1470.1,650.6 1473.6,650.6 1477.0,650.6 1480.5,650.6 1484.0,650.7 1487.4,650.7 1490.9,650.7 1494.3,650.7 1497.8,650.7 1501.2,650.7 1504.7,650.7 1508.2,650.7 1511.6,650.7 1515.1,650.7 1518.5,650.7 1522.0,650.7 1525.4,650.7 1528.9,650.7 1532.4,650.7 1535.8,650.7 1539.3,650.7 1542.7,650.7 1546.2,650.7 1549.6,650.7 1553.1,650.7 1556.6,650.7 1560.0,650.7 1563.5,650.7 1566.9,650.7 1570.4,650.7 1573.8,650.7 1577.3,650.7 1580.7,650.7 1584.2,650.7 1587.7,650.7 1591.1,650.7 1594.6,650.7 1598.0,650.7 1601.5,650.7 1604.9,650.7 1608.4,650.7 1611.9,650.7 1615.3,650.8 1618.8,650.8 1622.2,650.8 1625.7,650.8 1629.1,650.8 1632.6,650.8 1636.1,650.8 1639.5,650.8 1643.0,650.8 1646.4,650.8 1649.9,650.8 1653.3,650.8 1656.8,650.8 1660.3,650.8 1663.7,650.8 1667.2,650.8 1670.7,650.8 1674.2,650.8 1677.6,650.8 1681.0,650.8 1684.9,650.8 1688.7,650.9 1692.5,650.9 1696.3,650.8 1700.2,650.7 1704.0,651.0 1707.1,651.7 1710.2,652.6 1713.2,653.7 1716.0,655.0 1718.9,656.8 1721.5,658.9 1724.0,661.0 1726.5,662.8 1729.0,664.7 1731.0,667.0 1732.3,669.8 1733.2,673.2 1733.9,676.7 1734.5,680.0 1735.0,683.4 1735.2,686.7 1735.5,690.0 1735.9,693.3 1736.2,696.6 1736.5,700.0 1736.7,703.2 1736.8,706.5 1736.9,710.0 1737.0,713.3 1737.1,716.7 1737.2,720.0 1737.4,723.3 1737.5,726.7 1737.6,730.0 1737.8,733.3 1737.9,736.7 1738.0,740.0 1738.1,743.3 1738.1,746.5 1738.1,749.8 1738.2,753.0 1738.2,756.2 1738.2,759.5 1738.3,762.8 1738.3,766.0 1738.3,769.2 1738.4,772.5 1738.4,775.8 1738.5,779.0 1738.5,782.2 1738.5,785.5 1738.6,788.8 1738.6,792.0 1738.6,795.2 1738.7,798.5 1738.7,801.8 1738.8,805.0 1738.8,808.2 1738.8,811.5 1738.9,814.8 1738.9,818.0 1738.9,821.2 1739.0,824.5 1739.0,827.8 1739.0,831.0 1739.1,834.2 1739.1,837.5 1739.2,840.8 1739.2,844.0 1739.2,847.2 1739.3,850.5 1739.3,853.8 1739.3,857.0 1739.4,860.3 1739.4,863.5 1739.5,866.8 1739.5,870.0 1739.5,873.2 1739.6,876.3 1739.6,879.5 1739.7,882.7 1739.7,885.8 1739.8,889.0 1739.8,892.2 1739.9,895.3 1739.9,898.5 1740.0,901.7 1740.0,904.8 1740.0,908.0 1740.1,911.1 1740.1,914.3 1740.2,917.5 1740.2,920.6 1740.3,923.8 1740.3,927.0 1740.4,930.1 1740.4,933.3 1740.4,936.5 1740.5,939.6 1740.5,942.8 1740.6,946.0 1740.6,949.1 1740.7,952.3 1740.7,955.5 1740.8,958.6 1740.8,961.8 1740.8,965.0 1740.9,968.1 1740.9,971.3 1741.0,974.4 1741.0,977.6 1741.1,980.8 1741.1,983.9 1741.2,987.1 1741.2,990.3 1741.2,993.4 1741.3,996.6 1741.4,999.9 1741.5,1003.2 1741.6,1006.6 1741.6,1009.9 1741.7,1013.2 1741.8,1016.5 1741.9,1019.8 1742.0,1023.2 1742.1,1026.5 1742.2,1029.8 1742.2,1033.1 1742.3,1036.4 1742.4,1039.8 1742.5,1043.1 1742.6,1046.4 1742.7,1049.7 1742.6,1053.2 1742.4,1056.7 1742.4,1060.0 1743.0,1063.0 1744.5,1065.6 1746.4,1067.9 1748.4,1070.2 1750.9,1074.0 1753.8,1077.4 1756.9,1079.4 1760.5,1081.0 1764.1,1082.6 1767.5,1084.3 1771.0,1086.0 1774.4,1087.7 1777.8,1089.4 1781.3,1091.1 1784.7,1092.8 1788.1,1094.6 1791.5,1096.3 1795.0,1098.0 1797.9,1099.2 1800.9,1100.4 1803.9,1101.6 1806.9,1102.8 1809.8,1103.9 1812.8,1105.1 1815.8,1106.3 1818.8,1107.5 1821.7,1108.7 1824.7,1109.9 1827.7,1111.1 1830.6,1112.2 1833.6,1113.5 1836.5,1114.7 1839.5,1115.9 1842.5,1117.0 1845.6,1118.0 1848.8,1119.0 1852.0,1119.9 1855.2,1120.8 1858.3,1121.8 1861.5,1122.7 1864.7,1123.6 1867.8,1124.6 1871.0,1125.5 1874.2,1126.5 1877.3,1127.5 1880.5,1128.4 1883.6,1129.4 1886.8,1130.3 1890.0,1131.2 1893.1,1132.2 1896.3,1133.2 1899.4,1134.2 1902.6,1135.1 1905.8,1136.0 1909.1,1136.7 1912.4,1137.4 1915.7,1138.0 1919.0,1138.6 1922.3,1139.3 1925.6,1139.9 1928.9,1140.6 1932.2,1141.3 1935.5,1141.9 1938.8,1142.6 1942.1,1143.2 1945.4,1143.9 1948.7,1144.6 1952.0,1145.2 1955.3,1145.9 1958.6,1146.5 1961.9,1147.2 1965.2,1147.8 1968.5,1148.5 1971.8,1149.2 1975.1,1149.8 1978.5,1150.4 1981.8,1151.0 1985.0,1151.8 1988.6,1153.1 1992.1,1154.6 1995.6,1156.0 1999.1,1157.4 2002.6,1158.9 2006.1,1160.3 2009.7,1161.6 2013.4,1163.0 2016.7,1164.5 2020.4,1166.7 2023.8,1169.0 2027.3,1171.3 2031.0,1173.5 2033.7,1174.6 2036.7,1175.5 2039.8,1176.4 2042.8,1177.3 2045.8,1178.2 2048.7,1179.2 2051.6,1180.2 2054.6,1181.1 2057.6,1182.0 2060.5,1183.0 2063.4,1184.0 2066.4,1184.9 2069.4,1185.8 2072.3,1186.8 2075.2,1187.8 2078.2,1188.7 2081.1,1189.7 2084.1,1190.7 2087.0,1191.6 2090.0,1192.5 2093.1,1193.3 2096.3,1194.0 2099.5,1194.7 2102.7,1195.4 2105.8,1196.1 2109.0,1196.9 2112.2,1197.6 2115.3,1198.3 2118.5,1199.1 2121.7,1199.8 2124.8,1200.5 2128.0,1201.2 2131.2,1202.0 2134.3,1202.7 2137.5,1203.4 2140.7,1204.2 2143.8,1204.9 2147.0,1205.6 2150.2,1206.4 2153.3,1207.1 2156.5,1207.8 2159.7,1208.5 2162.8,1209.3 2166.0,1210.0" fill="none" stroke="#1717c4" stroke-width="7" stroke-linejoin="round" stroke-linecap="butt" />
<polyline points="322.0,612.0 325.4,610.8 328.8,609.7 332.1,608.5 335.0,607.0 337.8,604.9 340.1,602.4 342.5,600.0 344.9,597.4 347.2,594.8 350.0,593.0 352.9,592.4 356.1,592.5 359.5,592.8 362.8,592.9 365.9,592.9 369.1,592.9 372.3,592.9 375.5,592.9 378.7,592.9 381.9,592.8 385.1,592.8 388.2,592.8 391.4,592.8 394.6,592.8 397.8,592.8 401.0,592.8 404.2,592.7 407.4,592.7 410.6,592.7 413.8,592.7 416.9,592.7 420.1,592.7 423.3,592.6 426.5,592.6 429.7,592.6 432.9,592.6 436.1,592.6 439.2,592.6 442.5,592.6 445.8,592.6 449.0,592.6 452.0,592.5 456.1,592.1 460.0,591.5" fill="none" stroke="#0a0a7e" stroke-width="9" stroke-linejoin="round" stroke-linecap="butt" />
<polyline points="475.0,1618.5 476.0,1520.0 479.5,1400.0 481.8,1300.0 481.8,1254.0 483.4,1253.8 485.0,1254.3 486.6,1256.1 488.2,1253.8 489.8,1254.0 491.4,1254.4 493.1,1252.4 494.7,1254.1 496.3,1254.6 497.9,1255.5 499.5,1252.0 501.1,1253.0 502.7,1252.0 504.3,1255.5 505.9,1255.0 507.5,1251.7 509.1,1256.4 510.7,1256.3 512.3,1254.8 514.0,1254.6 515.6,1252.3 517.2,1251.6 518.8,1254.1 520.4,1251.8 522.0,1252.5 523.6,1252.7 525.2,1251.7 526.8,1253.8 528.4,1253.7 530.0,1255.7 531.6,1254.1 533.2,1254.7 534.9,1254.0 536.5,1254.8 538.1,1253.8 539.7,1252.9 541.3,1256.5 542.9,1256.5 544.5,1255.7 546.1,1255.0 547.7,1253.1 549.3,1252.6 550.9,1252.9 552.5,1251.9 554.1,1255.3 555.8,1253.5 557.4,1255.7 559.0,1253.4 560.6,1256.3 562.2,1255.7 563.8,1251.5 565.4,1252.5 567.0,1256.1 568.6,1253.8 570.2,1256.4 571.8,1253.5 573.4,1251.9 575.0,1254.6 576.7,1255.4 578.3,1252.8 579.9,1251.9 581.5,1253.2 583.1,1256.3 584.7,1255.3 586.3,1252.1 587.9,1252.7 589.5,1252.0 591.1,1251.8 592.7,1255.5 594.3,1252.4 595.9,1254.3 597.6,1253.7 599.2,1252.5 600.8,1255.2 602.4,1252.2 604.0,1254.7 605.6,1252.1 607.2,1253.6 608.8,1252.6 610.4,1252.8 612.0,1256.4 613.6,1255.5 615.2,1253.0 616.8,1255.9 618.5,1252.6 620.1,1253.5 621.7,1255.8 623.3,1254.7 624.9,1252.0 626.5,1256.4 628.1,1252.6 629.7,1252.8 631.3,1255.4 632.9,1253.1 634.5,1253.0 636.1,1251.9 637.7,1252.0 639.4,1254.4 641.0,1252.7 642.6,1254.5 644.2,1253.4 645.8,1253.8 647.4,1256.3 649.0,1254.0 650.4,1267.0 655.0,1320.0 657.8,1355.0 661.0,1420.0 662.0,1440.0 663.6,1439.8 665.2,1441.4 666.8,1441.5 668.4,1436.8 670.0,1435.6 671.6,1438.9 673.2,1438.0 674.8,1442.8 676.5,1441.7 678.1,1440.9 679.7,1440.5 681.3,1441.5 682.9,1436.8 684.5,1439.5 686.1,1437.0 687.7,1443.7 689.3,1436.0 690.9,1442.9 692.5,1436.2 694.1,1441.7 695.7,1438.5 697.3,1439.1 698.9,1443.1 700.5,1435.7 702.1,1436.0 703.7,1443.7 705.4,1440.1 707.0,1436.3 708.6,1444.4 710.2,1444.0 711.8,1436.5 713.4,1439.3 715.0,1436.7 716.6,1438.3 718.2,1441.1 719.8,1437.0 721.4,1441.8 723.0,1436.0 724.6,1437.0 726.2,1442.8 727.8,1439.1 729.4,1439.3 731.0,1440.9 732.6,1439.8 734.2,1439.0 735.9,1435.8 737.5,1442.0 739.1,1444.2 740.7,1444.3 742.3,1441.5 743.9,1438.7 745.5,1438.8 747.1,1441.7 748.7,1440.0 754.5,1472.6 760.4,1481.0 762.0,1478.6 763.6,1482.8 765.2,1482.8 766.8,1484.5 768.4,1477.8 770.0,1478.3 771.6,1477.4 773.2,1478.2 774.8,1483.3 776.4,1477.2 778.0,1481.2 779.6,1478.1 781.2,1478.9 782.8,1480.2 784.5,1484.3 786.1,1482.0 787.7,1476.0 789.3,1478.6 790.9,1477.3 792.5,1484.6 794.1,1484.0 795.7,1483.9 797.3,1484.1 798.9,1483.3 800.5,1485.3 802.1,1483.8 803.7,1478.4 805.3,1484.3 806.9,1480.7 808.5,1483.3 810.1,1481.4 811.7,1480.1 813.3,1479.4 814.9,1480.1 816.5,1478.9 818.1,1476.9 819.7,1483.9 821.3,1483.7 822.9,1485.6 824.5,1482.6 826.1,1481.3 827.7,1483.2 829.3,1477.1 830.9,1482.5 832.6,1480.1 834.2,1477.5 835.8,1477.7 837.4,1480.9 839.0,1478.2 840.6,1480.3 842.2,1481.7 843.8,1479.6 845.4,1477.0 847.0,1480.5 848.6,1478.0 850.2,1478.0 851.8,1477.6 853.4,1479.3 855.0,1476.3 856.6,1482.1 858.2,1485.1 859.8,1479.5 861.4,1482.8 863.0,1484.9 864.6,1476.0 866.2,1477.0 867.8,1483.6 869.4,1483.9 871.0,1481.9 872.6,1477.1 874.2,1479.7 875.8,1484.2 877.4,1484.4 879.0,1483.5 880.7,1477.5 882.3,1484.0 883.9,1479.2 885.5,1482.6 887.1,1476.8 888.7,1485.2 890.3,1481.5 891.9,1482.7 893.5,1477.6 895.1,1481.6 896.7,1481.2 898.3,1481.3 899.9,1479.0 901.5,1482.7 903.1,1478.8 904.7,1478.3 906.3,1477.0 907.9,1482.2 909.5,1476.5 911.1,1477.6 912.7,1476.1 914.3,1481.8 915.9,1480.9 917.5,1480.8 919.1,1475.7 920.7,1479.7 922.3,1478.8 923.9,1476.2 925.5,1475.3 927.1,1485.3 928.8,1476.5 930.4,1478.3 932.0,1478.0 933.6,1481.2 935.2,1476.0 936.8,1480.0 938.4,1478.9 940.0,1483.6 941.6,1475.3 943.2,1478.6 944.8,1480.2 946.4,1484.9 948.0,1480.4 949.6,1480.0 951.2,1481.9 952.8,1478.2 954.4,1475.5 956.0,1480.2 957.6,1484.3 959.2,1482.6 960.8,1477.7 962.4,1482.0 964.0,1483.6 965.6,1477.7 967.2,1481.0 968.8,1478.7 970.4,1477.6 972.0,1478.0 973.6,1477.1 975.2,1478.6 976.9,1475.5 978.5,1479.1 980.1,1475.9 981.7,1482.7 983.3,1481.1 984.9,1475.1 986.5,1482.8 988.1,1477.0 989.7,1479.8 991.3,1480.6 992.9,1478.4 994.5,1477.9 996.1,1479.4 997.7,1476.4 999.3,1480.0 1002.2,1502.0 1004.0,1560.0 1006.6,1618.5" fill="none" stroke="#f514e1" stroke-width="7.5" stroke-linejoin="round" stroke-linecap="butt" />
<polyline points="324.8,1618.5 324.8,1300.0 325.5,1000.0 329.5,850.0 331.7,700.0 333.5,641.0 471.4,641.0 474.0,800.0 479.0,1100.0 479.5,1618.5" fill="none" stroke="#0b7f30" stroke-width="7" stroke-linejoin="round" stroke-linecap="butt" />
<polyline points="1014.0,1618.5 1014.3,1200.0 1017.0,1000.0 1020.0,800.0 1023.5,775.0 1026.5,774.2 1029.5,775.5 1032.5,775.3 1035.5,774.9 1038.5,774.3 1041.6,775.7 1044.6,775.7 1047.6,775.0 1050.6,775.0 1053.6,774.4 1056.6,773.8 1059.6,774.7 1062.6,775.2 1065.6,774.0 1068.6,775.7 1071.7,774.4 1074.7,774.4 1077.7,773.9 1080.7,776.2 1083.7,775.6 1086.7,775.9 1089.7,775.3 1092.7,773.9 1095.7,774.6 1098.7,775.0 1101.8,774.1 1104.8,776.1 1107.8,774.7 1110.8,774.2 1113.8,775.8 1116.8,774.1 1119.8,776.0 1122.8,774.9 1125.8,775.1 1128.8,774.6 1131.8,775.0 1134.9,774.2 1137.9,773.9 1140.9,775.9 1143.9,774.4 1146.9,775.7 1149.9,774.3 1152.9,776.1 1155.9,775.9 1158.9,775.6 1161.9,775.6 1165.0,775.2 1168.0,775.6 1171.0,774.1 1174.0,774.9 1177.0,775.8 1180.0,774.3 1183.0,776.0 1186.0,775.9 1189.0,774.8 1192.0,774.7 1195.0,774.9 1198.1,774.7 1201.1,776.2 1204.1,774.7 1207.1,773.9 1210.1,774.0 1213.1,775.5 1216.1,776.2 1219.1,775.0 1222.1,775.0 1225.1,775.1 1228.2,775.6 1231.2,774.3 1234.2,775.3 1237.2,775.1 1240.2,775.3 1243.2,774.2 1246.2,774.2 1249.2,774.6 1252.2,776.0 1255.2,774.6 1258.3,775.2 1261.3,774.5 1264.3,774.0 1267.3,774.0 1270.3,775.8 1273.3,775.7 1276.3,774.7 1279.3,775.4 1282.3,775.4 1285.3,776.0 1288.3,776.1 1291.4,774.8 1294.4,776.2 1297.4,776.1 1300.4,775.2 1303.4,775.9 1306.4,775.0 1309.4,774.7 1312.4,774.4 1315.4,775.9 1318.4,774.2 1321.5,774.0 1324.5,775.7 1327.5,775.7 1330.5,775.0 1333.5,775.8 1336.5,773.9 1339.5,774.4 1342.5,774.5 1345.5,774.8 1348.5,774.2 1351.6,774.0 1354.6,774.6 1357.6,776.0 1360.6,776.2 1363.6,775.6 1366.6,774.9 1369.6,774.4 1372.6,776.1 1375.6,775.1 1378.6,775.5 1381.6,773.9 1384.7,774.3 1387.7,775.8 1390.7,775.7 1393.7,775.9 1396.7,775.2 1399.7,774.8 1402.7,775.2 1405.7,775.8 1408.7,774.5 1411.7,775.1 1414.8,774.5 1417.8,775.6 1420.8,773.8 1423.8,775.4 1426.8,776.1 1429.8,773.9 1432.8,775.2 1435.8,775.3 1438.8,775.8 1441.8,775.2 1444.9,774.4 1447.9,774.8 1450.9,776.1 1453.9,776.0 1456.9,774.1 1459.9,774.0 1462.9,774.0 1465.9,773.9 1468.9,774.9 1471.9,774.1 1474.9,775.9 1478.0,775.4 1481.0,774.1 1484.0,775.1 1487.0,774.6 1490.0,775.0 1493.0,774.3 1496.0,774.2 1499.0,774.2 1502.0,774.7 1505.0,775.5 1508.1,775.1 1511.1,773.9 1514.1,775.5 1517.1,775.9 1520.1,775.7 1523.1,775.7 1526.1,773.8 1529.1,774.9 1532.1,774.0 1535.1,775.6 1538.2,774.2 1541.2,775.5 1544.2,774.4 1547.2,775.5 1550.2,774.6 1553.2,773.9 1556.2,774.7 1559.2,774.5 1562.2,776.0 1565.2,774.5 1568.2,775.0 1571.3,775.1 1574.3,776.1 1577.3,774.0 1580.3,775.2 1583.3,775.0 1586.3,775.6 1589.3,776.1 1592.3,774.5 1595.3,775.5 1598.3,775.1 1601.4,775.1 1604.4,774.0 1607.4,775.8 1610.4,776.1 1613.4,774.7 1616.4,774.6 1619.4,776.2 1622.4,774.1 1625.4,774.0 1628.4,774.0 1631.4,775.8 1634.5,775.6 1637.5,774.9 1640.5,775.3 1643.5,773.8 1646.5,775.3 1649.5,774.9 1652.5,775.0 1655.5,774.7 1658.5,774.8 1661.5,774.3 1664.6,773.9 1667.6,774.8 1670.6,774.4 1673.6,775.5 1676.6,775.8 1679.6,775.5 1682.6,774.9 1685.6,774.4 1688.6,774.7 1691.6,775.0 1694.7,775.3 1697.7,776.1 1700.7,774.0 1703.7,775.0 1706.7,775.0 1709.7,775.0 1712.0,900.0 1715.8,1200.0 1716.9,1618.5" fill="none" stroke="#0b7f30" stroke-width="7" stroke-linejoin="round" stroke-linecap="butt" />
<polyline points="324.0,1377.0 327.3,1376.3 330.8,1375.8 333.9,1375.9 337.5,1376.3 341.0,1376.4 344.0,1375.8 346.8,1373.5 349.1,1370.2 351.4,1367.0 353.7,1363.7 356.0,1360.4 358.7,1358.2 362.9,1358.1 367.4,1359.0 371.7,1359.4 376.2,1359.7 380.0,1359.8 384.0,1359.8 387.9,1359.8 391.8,1359.9 395.8,1360.0 399.7,1360.0 403.6,1360.0 407.5,1360.1 411.4,1360.2 415.3,1360.2 419.2,1360.3 423.1,1360.3 427.0,1360.4 431.0,1360.4 434.9,1360.4 438.9,1360.3 442.9,1360.1 446.6,1360.6 449.7,1362.2 452.6,1364.5 455.4,1366.8 458.4,1368.8 461.3,1370.9 464.2,1372.9 467.9,1375.2 471.5,1377.3 475.1,1379.8 478.9,1381.7 483.5,1382.5 487.7,1381.7 489.4,1379.4 490.5,1376.2 491.6,1372.9 492.9,1370.0 494.2,1367.0 495.5,1364.1 496.9,1361.2 498.3,1358.3 499.4,1355.3 500.1,1351.8 500.5,1348.0 500.9,1344.3 501.4,1340.6 501.9,1337.0 502.4,1333.3 502.8,1329.6 503.3,1326.0 503.8,1322.3 504.3,1318.7 504.9,1315.0 505.3,1311.3 505.5,1308.3 505.7,1305.2 505.9,1302.2 506.0,1299.1 506.2,1296.0 506.4,1293.0 506.6,1289.9 506.8,1286.9 507.0,1283.8 507.1,1280.8 507.3,1277.7 507.5,1274.7 507.7,1271.6 507.9,1268.5 508.1,1265.5 508.2,1262.4 508.4,1259.4 508.6,1256.3 508.8,1253.3 509.0,1250.2 509.1,1247.2 509.3,1244.1 509.5,1241.1 509.7,1238.0 509.9,1234.9 510.1,1231.7 510.3,1228.6 510.5,1225.4 510.6,1222.2 510.8,1219.1 511.0,1215.9 511.2,1212.8 511.4,1209.7 511.6,1206.5 511.8,1203.3 512.0,1200.2 512.2,1197.1 512.4,1193.9 512.6,1190.8 512.7,1187.6 512.9,1184.4 513.1,1181.3 513.3,1178.1 513.5,1175.0 513.9,1171.1 514.3,1167.2 514.7,1163.3 515.1,1159.4 515.4,1155.6 515.8,1151.7 516.2,1147.8 516.6,1143.9 517.0,1140.0 517.4,1136.7 517.9,1133.4 518.4,1130.0 518.8,1126.7 519.3,1123.3 519.8,1120.0 520.2,1116.7 520.7,1113.3 521.1,1110.0 521.6,1106.6 522.0,1103.3 522.5,1100.0 523.0,1096.8 523.6,1093.7 524.2,1090.6 524.8,1087.5 525.3,1084.4 525.8,1081.2 526.4,1078.1 527.0,1075.0 527.9,1071.1 528.9,1067.3 529.9,1063.5 530.7,1059.7 531.6,1055.8 532.7,1052.0 533.8,1049.0 535.1,1046.0 536.5,1043.0 537.9,1040.0 539.1,1036.9 540.3,1033.9 541.6,1030.8 543.0,1028.0 545.0,1024.9 547.3,1021.9 549.5,1019.0 551.6,1015.9 553.6,1012.9 556.0,1010.0 558.2,1008.0 560.6,1006.1 563.1,1004.3 565.5,1002.5 567.9,1000.6 570.2,998.6 572.6,996.7 575.0,995.0 578.1,993.2 581.3,991.6 584.5,990.0 587.7,988.3 590.8,986.6 594.0,985.0 597.0,983.7 600.0,982.6 603.0,981.5 606.0,980.2 609.1,979.0 612.0,978.0 615.5,977.4 619.0,977.0 622.5,976.4 626.0,976.0 629.7,976.5 633.5,977.2 637.2,977.7 641.0,978.5 644.4,979.9 647.9,981.8 651.0,984.0 653.4,986.5 655.4,989.2 657.0,992.0 658.4,995.5 659.5,999.0 660.8,1002.4 662.0,1006.0 662.9,1009.5 663.8,1013.2 664.8,1017.0 665.6,1020.7 666.5,1024.5 667.5,1028.0 669.3,1032.1 671.2,1036.0 673.0,1040.1 675.0,1044.0 677.4,1047.3 680.0,1050.5 682.5,1053.8 685.0,1057.0 687.7,1059.8 690.5,1062.5 693.1,1065.2 696.0,1068.0 698.4,1070.0 701.2,1072.1 704.1,1074.2 707.0,1076.0 709.7,1077.4 712.5,1078.7 715.2,1079.9 718.0,1081.0 721.7,1082.3 725.5,1083.6 729.0,1085.0 731.8,1086.5 734.5,1088.1 737.0,1090.0 739.4,1092.4 741.7,1095.2 744.0,1098.0 746.0,1100.5 748.0,1103.1 750.1,1105.7 752.0,1108.0 754.8,1110.8 757.5,1113.2 760.0,1116.0 763.0,1118.5 765.6,1119.8 768.6,1120.9 771.8,1121.8 775.0,1122.5 778.1,1123.0 781.2,1123.3 784.4,1123.5 787.5,1123.8 790.6,1124.0 793.8,1124.3 796.9,1124.6 800.0,1125.0 803.7,1125.6 807.2,1126.3 810.8,1126.9 814.4,1127.6 818.0,1128.2 821.6,1128.9 825.3,1129.5 828.9,1130.2 832.5,1130.8 836.0,1131.5 839.6,1132.2 843.3,1132.8 846.4,1133.1 849.6,1133.2 852.8,1133.3 856.0,1133.4 859.1,1133.6 862.3,1133.8 865.5,1133.9 868.7,1134.1 871.8,1134.2 875.0,1134.4 878.2,1134.6 881.3,1134.7 884.5,1134.9 887.7,1135.0 890.8,1135.2 894.0,1135.4 897.2,1135.5 900.3,1135.7 903.5,1135.9 906.7,1136.0 910.0,1136.1 913.3,1136.2 916.6,1136.2 919.9,1136.3 923.2,1136.3 926.5,1136.4 929.8,1136.5 933.1,1136.5 936.4,1136.6 939.7,1136.7 943.0,1136.7 946.2,1136.8 949.5,1136.9 952.8,1136.9 956.1,1137.0 959.4,1137.1 962.7,1137.1 966.0,1137.2 969.3,1137.3 972.6,1137.3 976.0,1137.4 979.3,1137.6 982.7,1137.6 985.8,1137.6 989.1,1137.3 992.2,1136.9 995.3,1136.5 998.5,1136.2 1001.6,1135.8 1004.8,1135.5 1008.0,1135.3 1011.3,1135.2 1014.3,1134.4 1017.1,1132.5 1019.6,1129.8 1022.1,1127.2 1024.9,1124.9 1027.6,1122.6 1030.0,1120.0 1032.0,1116.7 1033.7,1113.1 1035.3,1109.5 1037.1,1106.0 1038.9,1102.5 1040.7,1099.0 1042.5,1095.5 1044.3,1092.0 1046.0,1088.5 1047.5,1085.3 1048.9,1082.2 1050.2,1079.0 1051.6,1075.8 1053.1,1072.7 1054.5,1069.5 1055.9,1066.3 1057.2,1063.2 1058.7,1060.0 1060.4,1056.5 1062.2,1053.0 1064.0,1049.4 1065.7,1045.9 1067.5,1042.4 1069.2,1038.9 1070.8,1035.2 1072.3,1031.4 1074.5,1028.3 1076.9,1026.5 1079.7,1025.2 1082.7,1024.0 1085.6,1022.8 1088.4,1021.4 1091.3,1020.0 1094.1,1018.6 1096.7,1017.2 1099.5,1015.4 1102.0,1013.5 1104.6,1011.6 1107.1,1009.7 1109.7,1007.7 1112.5,1006.0 1115.3,1004.8 1118.2,1003.7 1121.3,1002.7 1124.4,1001.7 1127.3,1000.6 1130.3,999.5 1133.3,998.4 1136.2,997.4 1139.2,996.3 1142.2,995.2 1145.2,994.1 1148.1,993.0 1151.1,991.9 1154.0,990.7 1157.0,989.6 1160.0,988.7 1163.1,988.0 1166.3,987.5 1169.5,987.0 1172.7,986.5 1175.8,986.0 1179.0,985.4 1182.2,984.9 1185.3,984.3 1188.5,983.8 1191.7,983.2 1194.8,982.6 1198.0,982.1 1201.1,981.5 1204.3,981.0 1207.5,980.5 1210.6,979.9 1213.8,979.3 1217.0,978.8 1220.2,978.2 1223.3,977.7 1227.1,977.1 1230.9,976.6 1234.6,976.1 1238.4,975.6 1242.2,975.0 1246.0,974.5 1249.8,974.0 1253.5,973.4 1257.3,972.9 1261.1,972.4 1264.9,971.8 1268.7,971.3 1272.4,970.7 1276.1,970.1 1280.0,969.7 1283.3,969.5 1286.6,969.5 1290.0,969.5 1293.3,969.5 1296.7,969.4 1300.0,969.4 1303.3,969.3 1306.7,969.3 1310.0,969.2 1313.3,969.2 1316.7,969.1 1320.0,969.1 1323.3,969.0 1326.7,969.0 1330.0,968.9 1333.3,968.9 1336.7,968.8 1340.0,968.7 1343.4,968.7 1346.7,968.6 1350.0,968.6 1353.4,968.5 1356.7,968.5 1360.0,968.4 1363.4,968.4 1366.7,968.3 1370.0,968.3 1373.4,968.2 1376.7,968.2 1380.1,968.1 1383.4,968.1 1386.7,968.0 1389.9,967.9 1393.1,967.9 1396.2,967.8 1399.4,967.7 1402.5,967.6 1405.7,967.6 1408.9,967.5 1412.0,967.4 1415.2,967.3 1418.3,967.2 1421.5,967.2 1424.7,967.1 1427.8,967.0 1431.0,967.0 1434.2,966.9 1437.3,966.8 1440.5,966.7 1443.7,966.6 1446.8,966.6 1450.0,966.5 1453.2,966.4 1456.3,966.4 1459.5,966.3 1462.7,966.2 1465.8,966.1 1469.0,966.1 1472.2,966.0 1475.3,965.9 1478.5,965.8 1481.7,965.8 1484.8,965.7 1488.0,965.6 1491.1,965.5 1494.3,965.5 1497.5,965.4 1500.6,965.3 1503.8,965.2 1507.0,965.1 1510.1,965.1 1513.3,965.0 1516.5,965.0 1519.6,964.9 1522.8,964.9 1526.0,964.8 1529.1,964.8 1532.3,964.8 1535.5,964.7 1538.6,964.7 1541.8,964.6 1545.0,964.6 1548.1,964.6 1551.3,964.5 1554.5,964.5 1557.6,964.4 1560.8,964.4 1564.0,964.4 1567.1,964.3 1570.3,964.3 1573.5,964.2 1576.7,964.2 1579.8,964.2 1583.0,964.1 1586.2,964.1 1589.3,964.0 1592.5,964.0 1595.7,964.0 1598.8,963.9 1602.0,963.9 1605.2,963.8 1608.3,963.8 1611.5,963.8 1614.7,963.7 1617.8,963.7 1621.0,963.6 1624.2,963.6 1627.3,963.6 1630.5,963.6 1633.7,963.6 1636.8,963.5 1640.0,963.4 1643.2,963.1 1646.3,962.7 1649.5,962.3 1652.7,961.8 1655.8,961.4 1659.0,961.1 1662.2,960.7 1665.3,960.3 1668.6,960.0 1671.9,959.8 1675.1,959.5 1678.0,958.7 1681.0,956.9 1683.7,954.7 1686.4,952.4 1689.2,950.3 1692.1,948.1 1694.9,946.0 1697.7,944.0 1700.6,942.0 1703.3,939.7 1705.4,937.3 1707.3,934.5 1709.2,931.7 1711.2,928.8 1713.2,926.2 1715.3,923.5 1717.2,920.8 1719.0,918.0 1720.4,915.2 1721.6,912.4 1722.7,909.5 1723.8,906.6 1725.1,903.8 1726.4,901.0 1727.6,898.2 1728.6,895.3 1729.2,892.2 1729.6,889.0 1729.8,885.8 1730.2,882.6 1730.5,879.5 1730.9,876.3 1731.3,873.2 1731.7,870.0 1732.1,866.8 1732.6,863.7 1733.0,860.5 1733.4,857.3 1733.7,854.1 1733.8,851.0 1734.0,847.8 1734.2,844.6 1734.3,841.5 1734.5,838.3 1734.7,835.2 1734.9,832.0 1735.1,828.8 1735.3,825.7 1735.5,822.5 1735.7,819.4 1735.9,816.2 1736.1,813.0 1736.3,809.9 1736.4,806.7 1736.5,803.5 1736.5,800.3 1736.5,797.1 1736.5,794.0 1736.6,790.8 1736.6,787.6 1736.6,784.4 1736.6,781.2 1736.7,778.0 1736.7,774.9 1736.7,771.7 1736.8,768.5 1736.8,765.3 1736.8,762.1 1736.9,758.9 1736.9,755.7 1736.9,752.5 1736.9,749.3 1737.0,746.1 1737.0,743.0 1737.1,739.2 1737.2,735.5 1737.2,731.8 1737.3,728.0 1737.4,724.3 1737.5,720.5 1737.6,716.8 1737.7,713.0 1737.8,709.2 1737.8,705.5 1737.9,701.8 1738.0,698.0 1738.0,694.8 1738.1,691.5 1738.1,688.1 1738.1,684.8 1738.1,681.5 1738.2,678.2 1738.2,674.9 1738.2,671.6 1738.2,668.3 1738.3,665.0 1738.3,661.7 1738.3,658.4 1738.3,655.1 1738.4,651.8 1738.4,648.5 1738.4,645.2 1738.5,641.9 1738.5,638.6 1738.5,635.3 1738.5,632.0 1738.6,628.7 1738.6,625.4 1738.6,622.1 1738.6,618.8 1738.7,615.5 1738.7,612.2 1738.7,608.9 1738.7,605.6 1738.8,602.3 1738.8,599.0 1738.8,595.7 1738.9,592.4 1738.9,589.1 1738.9,585.8 1738.9,582.5 1739.0,579.2 1739.0,575.9 1739.0,572.6 1739.0,569.3 1739.1,566.0 1739.1,562.7 1739.1,559.4 1739.1,556.1 1739.2,552.8 1739.2,549.5 1739.2,546.2 1739.3,542.9 1739.3,539.6 1739.3,536.3 1739.3,533.0 1739.4,529.7 1739.4,526.4 1739.4,523.1 1739.4,519.8 1739.5,516.5 1739.5,513.2 1739.5,509.9 1739.5,506.6 1739.6,503.3 1739.6,500.0 1739.6,496.7 1739.6,493.3 1739.7,490.0 1739.7,486.7 1739.7,483.3 1739.7,480.0 1739.8,476.7 1739.8,473.3 1739.8,470.0 1739.8,466.7 1739.9,463.3 1739.9,460.0 1739.9,456.7 1739.9,453.3 1740.0,450.0 1740.0,446.7 1740.0,443.3 1740.0,440.0 1740.0,436.7 1740.1,433.3 1740.1,430.0 1740.1,426.7 1740.1,423.3 1740.2,420.0 1740.2,416.7 1740.2,413.3 1740.2,410.0 1740.3,406.7 1740.3,403.3 1740.3,400.0 1740.3,396.7 1740.3,393.3 1740.4,390.0 1740.4,386.7 1740.4,383.3 1740.4,380.0 1740.5,376.7 1740.5,373.3 1740.5,370.0 1740.5,366.7 1740.6,363.3 1740.6,360.0 1740.6,356.7 1740.6,353.3 1740.7,350.0 1740.7,346.7 1740.7,343.3 1740.7,340.0 1740.7,336.7 1740.8,333.3 1740.8,330.0 1740.8,326.7 1740.8,323.3 1740.9,320.0 1740.9,316.7 1740.9,313.3 1740.9,310.0 1740.9,306.6 1740.9,303.3 1741.0,300.0 1741.1,296.9 1741.2,293.8 1741.4,290.8 1741.5,287.8 1741.6,284.7 1741.8,281.6 1741.9,278.6 1742.0,275.5 1742.1,272.4 1742.2,269.4 1742.4,266.3 1742.5,263.2 1742.6,260.2 1742.8,257.1 1742.9,254.1 1743.0,251.0 1743.1,247.9 1743.2,244.9 1743.4,241.8 1743.5,238.8 1743.3,235.4 1743.0,231.9 1743.0,228.7 1744.0,226.5 1746.4,225.6 1749.8,225.6 1753.7,226.1 1757.3,226.4 1760.7,226.4 1764.0,226.4 1767.3,226.4 1770.7,226.3 1774.0,226.3 1777.3,226.3 1780.7,226.3 1784.0,226.2 1787.3,226.2 1790.7,226.2 1794.0,226.2 1797.3,226.2 1800.7,226.1 1804.0,226.1 1807.3,226.1 1810.7,226.1 1814.2,226.3 1817.9,226.5 1821.3,226.6 1824.0,226.0 1825.7,223.8 1827.5,221.7 1830.2,221.1 1833.7,221.2 1837.5,221.5 1841.2,221.7 1844.6,221.7 1848.0,221.7 1851.4,221.7 1854.8,221.7 1858.2,221.7 1861.6,221.7 1865.0,221.7 1868.5,221.7 1871.9,221.7 1875.3,221.7 1878.7,221.7 1882.1,221.7 1885.5,221.7 1888.9,221.7 1892.3,221.7 1895.8,221.7 1899.2,221.7 1902.6,221.7 1906.0,221.7 1909.4,221.7 1912.8,221.7 1916.2,221.7 1919.6,221.7 1923.0,221.7 1926.5,221.7 1929.9,221.7 1933.3,221.7 1936.7,221.7 1940.1,221.7 1943.5,221.7 1946.9,221.7 1950.3,221.7 1953.8,221.7 1957.2,221.7 1960.6,221.7 1964.0,221.7 1967.4,221.7 1970.8,221.7 1974.2,221.7 1977.6,221.7 1981.4,221.4 1985.3,220.9 1988.8,220.8 1991.3,221.7 1992.3,224.1 1992.2,227.4 1991.7,231.2 1991.5,234.8 1991.5,238.1 1991.5,241.3 1991.6,244.6 1991.6,247.9 1991.6,251.2 1991.7,254.4 1991.7,257.7 1991.8,261.0 1991.8,264.3 1991.8,267.6 1991.9,270.8 1991.9,274.1 1992.0,277.4 1992.0,280.6 1992.0,283.9 1992.1,287.2 1992.1,290.5 1992.2,293.8 1992.2,297.0 1992.2,300.3 1992.3,303.6 1992.3,306.9 1992.3,310.1 1992.4,313.4 1992.4,316.7 1992.5,319.9 1992.5,323.2 1992.5,326.5 1992.6,329.8 1992.6,333.0 1992.7,336.3 1992.7,339.6 1992.7,342.9 1992.8,346.2 1992.8,349.4 1992.8,352.7 1992.9,356.0 1992.9,359.2 1993.0,362.5 1993.0,365.8 1993.1,369.2 1993.1,372.6 1993.2,376.1 1993.2,379.5 1993.3,383.0 1993.4,386.4 1993.4,389.8 1993.5,393.2 1993.6,396.7 1993.6,400.1 1993.7,403.5 1993.8,407.0 1993.8,410.4 1993.9,413.8 1993.9,417.3 1994.0,420.7 1994.1,424.1 1994.1,427.6 1994.2,431.0 1994.2,434.4 1994.3,437.9 1994.4,441.3 1994.4,444.7 1994.5,448.1 1994.6,451.6 1994.6,455.0 1994.7,458.4 1994.8,461.9 1994.8,465.3 1994.9,468.7 1994.9,472.2 1995.0,475.6 1995.1,479.0 1995.1,482.5 1995.2,485.9 1995.2,489.3 1995.3,492.8 1995.4,496.2 1995.4,499.6 1995.5,503.1 1995.6,506.5 1995.6,509.9 1995.7,513.3 1995.8,516.8 1995.7,520.3 1995.5,523.9 1995.5,527.3 1996.0,530.5 1997.3,533.5 1999.0,536.2 2000.7,538.9 2002.2,541.7 2003.8,544.6 2005.3,547.4 2006.7,550.2 2008.1,553.1 2010.0,555.8 2012.4,558.0 2015.2,559.9 2018.3,561.8 2021.2,563.8 2024.1,565.7 2027.0,567.6 2029.9,569.6 2032.5,571.7 2034.8,573.9 2036.9,576.3 2038.9,578.7 2040.9,581.1 2043.0,583.5 2045.2,585.9 2047.3,588.2 2049.4,590.6 2051.4,593.0 2053.4,595.6 2055.5,598.0 2057.8,600.0 2060.8,601.7 2064.1,603.0 2067.3,604.3 2070.5,605.7 2073.6,607.1 2076.8,608.5 2079.9,610.0 2083.0,611.5 2086.3,612.8 2089.5,613.5 2093.0,614.1 2096.5,614.5 2100.0,614.9 2103.5,615.5 2106.9,616.0 2110.3,616.5 2113.8,617.1 2117.2,617.6 2120.7,618.1 2124.1,618.6 2127.5,619.2 2130.7,619.8 2133.9,620.5 2137.1,621.1 2140.3,621.8 2143.5,622.5 2146.8,623.1 2150.0,623.8 2153.2,624.4 2156.4,625.0 2159.6,625.7 2162.8,626.4 2166.0,627.0" fill="none" stroke="#00e3ea" stroke-width="7.5" stroke-linejoin="round" stroke-linecap="butt" />
<line x1="481.3" y1="162.2" x2="481.5" y2="209.2" stroke="#e89a55" stroke-width="5"/>
<line x1="481.5" y1="233.7" x2="481.7" y2="280.7" stroke="#e89a55" stroke-width="5"/>
<line x1="481.8" y1="305.2" x2="481.9" y2="352.2" stroke="#e89a55" stroke-width="5"/>
<line x1="482.0" y1="376.7" x2="482.1" y2="423.7" stroke="#e89a55" stroke-width="5"/>
<line x1="482.2" y1="448.2" x2="482.4" y2="495.2" stroke="#e89a55" stroke-width="5"/>
<line x1="482.4" y1="519.7" x2="482.6" y2="566.7" stroke="#e89a55" stroke-width="5"/>
<line x1="482.7" y1="591.2" x2="482.8" y2="638.2" stroke="#e89a55" stroke-width="5"/>
<line x1="482.9" y1="662.7" x2="483.1" y2="709.7" stroke="#e89a55" stroke-width="5"/>
<line x1="483.1" y1="734.2" x2="483.3" y2="781.2" stroke="#e89a55" stroke-width="5"/>
<line x1="483.4" y1="805.7" x2="483.5" y2="852.7" stroke="#e89a55" stroke-width="5"/>
<line x1="483.6" y1="877.2" x2="483.7" y2="924.2" stroke="#e89a55" stroke-width="5"/>
<line x1="483.8" y1="948.7" x2="484.0" y2="995.7" stroke="#e89a55" stroke-width="5"/>
<line x1="484.1" y1="1020.2" x2="484.2" y2="1067.2" stroke="#e89a55" stroke-width="5"/>
<line x1="484.3" y1="1091.7" x2="484.4" y2="1138.7" stroke="#e89a55" stroke-width="5"/>
<line x1="484.5" y1="1163.2" x2="484.7" y2="1210.2" stroke="#e89a55" stroke-width="5"/>
<line x1="484.7" y1="1234.7" x2="484.8" y2="1253.0" stroke="#e89a55" stroke-width="5"/>
<line x1="654.9" y1="164.0" x2="655.2" y2="211.0" stroke="#e89a55" stroke-width="5"/>
<line x1="655.3" y1="235.5" x2="655.5" y2="282.5" stroke="#e89a55" stroke-width="5"/>
<line x1="655.6" y1="307.0" x2="655.9" y2="354.0" stroke="#e89a55" stroke-width="5"/>
<line x1="656.0" y1="378.5" x2="656.3" y2="425.5" stroke="#e89a55" stroke-width="5"/>
<line x1="656.4" y1="450.0" x2="656.6" y2="497.0" stroke="#e89a55" stroke-width="5"/>
<line x1="656.7" y1="521.5" x2="657.0" y2="568.5" stroke="#e89a55" stroke-width="5"/>
<line x1="657.1" y1="593.0" x2="657.3" y2="640.0" stroke="#e89a55" stroke-width="5"/>
<line x1="657.5" y1="664.5" x2="657.7" y2="711.5" stroke="#e89a55" stroke-width="5"/>
<line x1="657.8" y1="736.0" x2="658.1" y2="783.0" stroke="#e89a55" stroke-width="5"/>
<line x1="658.2" y1="807.5" x2="658.4" y2="854.5" stroke="#e89a55" stroke-width="5"/>
<line x1="658.6" y1="879.0" x2="658.8" y2="926.0" stroke="#e89a55" stroke-width="5"/>
<line x1="658.9" y1="950.5" x2="659.2" y2="997.5" stroke="#e89a55" stroke-width="5"/>
<line x1="659.3" y1="1022.0" x2="659.5" y2="1062.0" stroke="#e89a55" stroke-width="5"/>
<line x1="727.2" y1="154.7" x2="727.4" y2="201.7" stroke="#e89a55" stroke-width="5"/>
<line x1="727.5" y1="226.2" x2="727.7" y2="273.2" stroke="#e89a55" stroke-width="5"/>
<line x1="727.7" y1="297.7" x2="727.9" y2="344.7" stroke="#e89a55" stroke-width="5"/>
<line x1="728.0" y1="369.2" x2="728.2" y2="416.2" stroke="#e89a55" stroke-width="5"/>
<line x1="728.3" y1="440.7" x2="728.4" y2="487.7" stroke="#e89a55" stroke-width="5"/>
<line x1="728.5" y1="512.2" x2="728.7" y2="559.2" stroke="#e89a55" stroke-width="5"/>
<line x1="728.8" y1="583.7" x2="729.0" y2="630.7" stroke="#e89a55" stroke-width="5"/>
<line x1="729.1" y1="655.2" x2="729.2" y2="702.2" stroke="#e89a55" stroke-width="5"/>
<line x1="729.3" y1="726.7" x2="729.5" y2="773.7" stroke="#e89a55" stroke-width="5"/>
<line x1="729.6" y1="798.2" x2="729.8" y2="845.2" stroke="#e89a55" stroke-width="5"/>
<line x1="729.9" y1="869.7" x2="730.0" y2="916.7" stroke="#e89a55" stroke-width="5"/>
<line x1="730.1" y1="941.2" x2="730.3" y2="988.2" stroke="#e89a55" stroke-width="5"/>
<line x1="730.4" y1="1012.7" x2="730.6" y2="1059.7" stroke="#e89a55" stroke-width="5"/>
<line x1="730.7" y1="1084.2" x2="730.8" y2="1131.2" stroke="#e89a55" stroke-width="5"/>
<line x1="730.9" y1="1155.7" x2="731.0" y2="1175.0" stroke="#e89a55" stroke-width="5"/>
<line x1="1013.2" y1="156.5" x2="1013.3" y2="203.5" stroke="#e89a55" stroke-width="5"/>
<line x1="1013.3" y1="228.0" x2="1013.4" y2="275.0" stroke="#e89a55" stroke-width="5"/>
<line x1="1013.5" y1="299.5" x2="1013.5" y2="346.5" stroke="#e89a55" stroke-width="5"/>
<line x1="1013.6" y1="371.0" x2="1013.7" y2="418.0" stroke="#e89a55" stroke-width="5"/>
<line x1="1013.7" y1="442.5" x2="1013.8" y2="489.5" stroke="#e89a55" stroke-width="5"/>
<line x1="1013.8" y1="514.0" x2="1013.9" y2="561.0" stroke="#e89a55" stroke-width="5"/>
<line x1="1014.0" y1="585.5" x2="1014.0" y2="632.5" stroke="#e89a55" stroke-width="5"/>
<line x1="1014.1" y1="657.0" x2="1014.2" y2="704.0" stroke="#e89a55" stroke-width="5"/>
<line x1="1014.2" y1="728.5" x2="1014.3" y2="775.5" stroke="#e89a55" stroke-width="5"/>
<line x1="1014.3" y1="800.0" x2="1014.4" y2="847.0" stroke="#e89a55" stroke-width="5"/>
<line x1="1014.5" y1="871.5" x2="1014.5" y2="918.5" stroke="#e89a55" stroke-width="5"/>
<line x1="1014.6" y1="943.0" x2="1014.7" y2="990.0" stroke="#e89a55" stroke-width="5"/>
<line x1="1014.7" y1="1014.5" x2="1014.8" y2="1061.5" stroke="#e89a55" stroke-width="5"/>
<line x1="1014.8" y1="1086.0" x2="1014.9" y2="1133.0" stroke="#e89a55" stroke-width="5"/>
<line x1="1015.0" y1="1157.5" x2="1015.0" y2="1177.0" stroke="#e89a55" stroke-width="5"/>
<text transform="translate(184.4,1640.5) scale(0.945,1)" font-size="64" fill="#111" >10</text>
<text x="250.9" y="1608.5" font-size="38" fill="#111" >0</text>
<text transform="translate(184.4,1448.0) scale(0.945,1)" font-size="64" fill="#111" >10</text>
<text x="250.4" y="1416.0" font-size="38" fill="#111" >1</text>
<text transform="translate(184.4,1255.4) scale(0.945,1)" font-size="64" fill="#111" >10</text>
<text x="250.9" y="1223.4" font-size="38" fill="#111" >2</text>
<text transform="translate(184.4,1062.8) scale(0.945,1)" font-size="64" fill="#111" >10</text>
<text x="251.1" y="1030.8" font-size="38" fill="#111" >3</text>
<text transform="translate(184.4,870.3) scale(0.945,1)" font-size="64" fill="#111" >10</text>
<text x="251.1" y="838.3" font-size="38" fill="#111" >4</text>
<text transform="translate(184.4,677.8) scale(0.945,1)" font-size="64" fill="#111" >10</text>
<text x="251.0" y="645.8" font-size="38" fill="#111" >5</text>
<text transform="translate(184.4,485.2) scale(0.945,1)" font-size="64" fill="#111" >10</text>
<text x="250.8" y="453.2" font-size="38" fill="#111" >6</text>
<text transform="translate(184.4,292.6) scale(0.945,1)" font-size="64" fill="#111" >10</text>
<text x="250.9" y="260.6" font-size="38" fill="#111" >7</text>
<text transform="translate(184.4,100.1) scale(0.945,1)" font-size="64" fill="#111" >10</text>
<text x="250.9" y="68.1" font-size="38" fill="#111" >8</text>
<text x="306.1" y="1718.5" font-size="63" fill="#111" >0</text>
<text transform="translate(626.2,1718.5) scale(0.980,1)" font-size="63" fill="#111" >5 000</text>
<text transform="translate(999.3,1718.5) scale(0.982,1)" font-size="63" fill="#111" >10,000</text>
<text transform="translate(1386.3,1718.5) scale(0.990,1)" font-size="63" fill="#111" >15,000</text>
<text x="1773.9" y="1718.5" font-size="63" fill="#111" >20,000</text>
<text x="2214.2" y="1635.5" font-size="65" fill="#111" >0.0</text>
<text x="2214.9" y="1355.2" font-size="65" fill="#111" >0.2</text>
<text x="2213.5" y="1074.9" font-size="65" fill="#111" >0.4</text>
<text x="2214.5" y="794.7" font-size="65" fill="#111" >0.6</text>
<text x="2214.4" y="514.4" font-size="65" fill="#111" >0.8</text>
<text x="2214.2" y="234.1" font-size="65" fill="#111" >1.0</text>
<text transform="translate(1052.3,1840.7) scale(0.939,1)" font-size="82" fill="#111" >Depth (nm)</text>
<text transform="translate(92.3,1082.4) rotate(-90) translate(-7.4,0) scale(1.004,1)" font-size="80" fill="#111">Intensity (cts/s)</text>
<text transform="translate(2347.8,849.8) rotate(90)" font-size="82" fill="#111" text-anchor="middle" dy="0">x</text>
<rect x="1181.8" y="1058.4" width="312.7" height="503.4" fill="#fefefe" stroke="#6a6a6a" stroke-width="3"/>
<line x1="1186.8" y1="1112" x2="1365.7" y2="1112" stroke="#0a0a0a" stroke-width="6"/>
<text transform="translate(1386.1,1139.0) scale(0.934,1)" font-size="81" fill="#111" >Cd</text>
<line x1="1186.8" y1="1210.6" x2="1365.7" y2="1210.6" stroke="#e3202a" stroke-width="6"/>
<text transform="translate(1384.6,1238.5) scale(1.041,1)" font-size="81" fill="#111" >Te</text>
<line x1="1186.8" y1="1311" x2="1365.7" y2="1311" stroke="#1717c4" stroke-width="6"/>
<text transform="translate(1382.5,1335.5) scale(0.976,1)" font-size="81" fill="#111" >Hg</text>
<line x1="1186.8" y1="1408.6" x2="1365.7" y2="1408.6" stroke="#f514e1" stroke-width="6"/>
<text transform="translate(1384.8,1434.0) scale(0.962,1)" font-size="81" fill="#111" >As</text>
<line x1="1186.8" y1="1506.6" x2="1365.7" y2="1506.6" stroke="#0b7f30" stroke-width="6"/>
<text x="1382.0" y="1532.8" font-size="81" fill="#111" >I</text>
<rect x="1892.8" y="1350" width="254.2" height="108" fill="#fefefe" stroke="#6a6a6a" stroke-width="3"/>
<line x1="1903.7" y1="1403.7" x2="2079.6" y2="1403.7" stroke="#00e3ea" stroke-width="9"/>
<text transform="translate(2098.8,1429.0) scale(0.880,1)" font-size="82" fill="#111" >x</text>
<text transform="translate(1941.0,1576.7) scale(0.967,1)" font-size="78" fill="#111" >#892</text>
<rect x="2416" y="1834" width="3.5" height="5.5" fill="#8c8466"/><rect x="2416" y="1853" width="3.5" height="5.5" fill="#8c8466"/>
</svg>
</body></html>
